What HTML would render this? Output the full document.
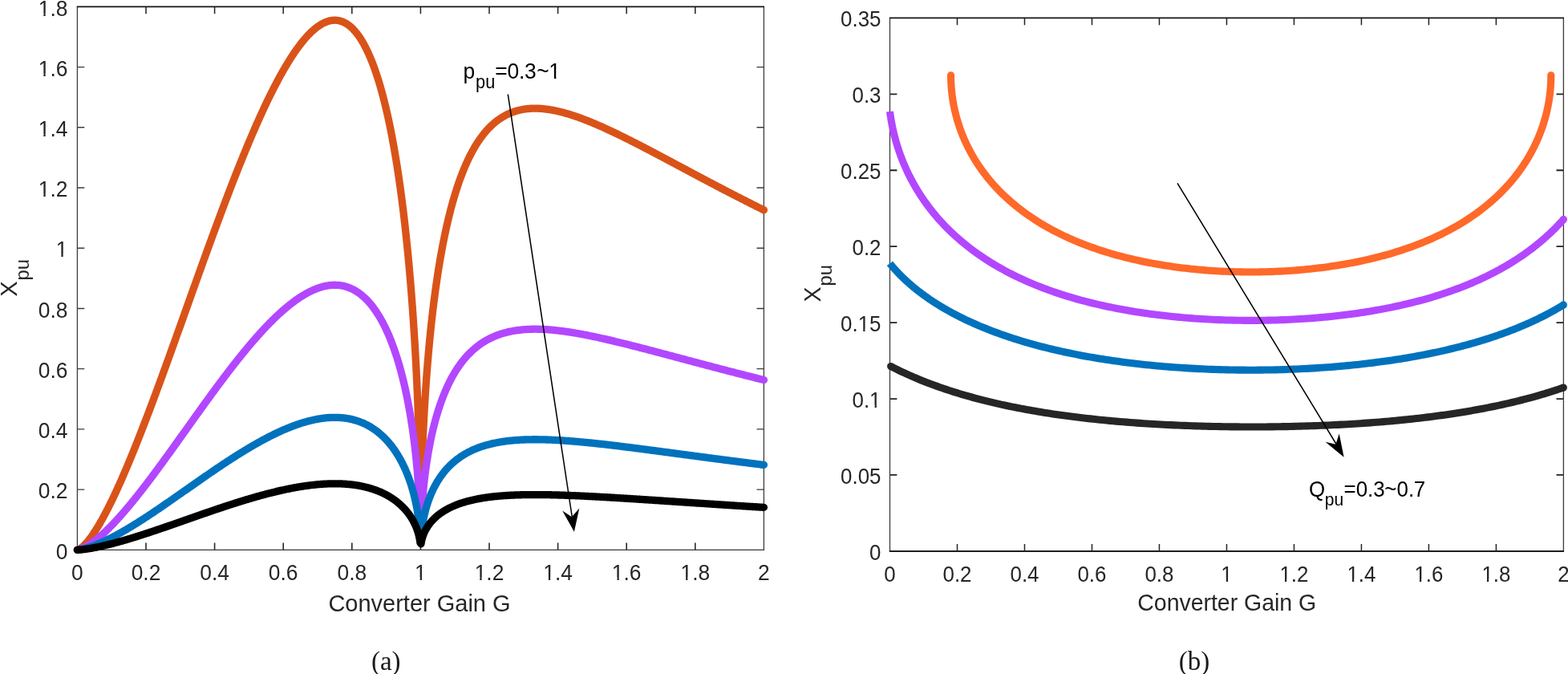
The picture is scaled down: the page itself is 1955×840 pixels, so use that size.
<!DOCTYPE html>
<html lang="en"><head><meta charset="utf-8"><title>Figure</title>
<style>
html,body{margin:0;padding:0;background:#fff;}
body{width:1955px;height:840px;overflow:hidden;}
svg{display:block;}
text{font-family:"Liberation Sans",sans-serif;}
.t{font-size:26.4px;fill:#262626;}
.l{font-size:29.0px;fill:#262626;}
.an{font-size:26.4px;fill:#000;}
#plot-b .t{font-size:25.9px;}
#plot-b .l{font-size:28.45px;}
#plot-b .an{font-size:25.9px;}
#plot-b .c{stroke-width:9.1;}
.sub{font-size:21.0px;}
.sb{fill:#262626;}
.cap{font-family:"Liberation Serif",serif;font-size:33px;fill:#1a1a1a;}
.bx{fill:none;stroke:#262626;stroke-width:1.3;}
.tk{fill:none;stroke:#262626;stroke-width:1.3;}
.c{fill:none;stroke-width:9.3;stroke-linejoin:round;stroke-linecap:round;}
.ar{fill:none;stroke:#000;stroke-width:1.55;}
</style></head><body>
<svg width="1955" height="840" viewBox="0 0 1955 840" role="img" aria-label="X pu versus converter gain G">
<rect x="0" y="0" width="1955" height="840" fill="#fff"/>
<g id="plot-a">
<path fill="none" stroke="#282828" stroke-width="1.6" d="M182 685.3 v-8.9 M267.6 685.3 v-8.9 M353.2 685.3 v-8.9 M438.8 685.3 v-8.9 M524.4 685.3 v-8.9 M610 685.3 v-8.9 M695.6 685.3 v-8.9 M781.2 685.3 v-8.9 M866.8 685.3 v-8.9"/>
<path fill="none" stroke="#222" stroke-width="1.5" d="M182 8.4 v8.9 M267.6 8.4 v8.9 M353.2 8.4 v8.9 M438.8 8.4 v8.9 M524.4 8.4 v8.9 M610 8.4 v8.9 M695.6 8.4 v8.9 M781.2 8.4 v8.9 M866.8 8.4 v8.9"/>
<path fill="none" stroke="#3c3c3c" stroke-width="1.4" d="M96.4 610.09 h8.9 M952.4 610.09 h-8.9 M96.4 534.88 h8.9 M952.4 534.88 h-8.9 M96.4 459.67 h8.9 M952.4 459.67 h-8.9 M96.4 384.46 h8.9 M952.4 384.46 h-8.9 M96.4 309.24 h8.9 M952.4 309.24 h-8.9 M96.4 234.03 h8.9 M952.4 234.03 h-8.9 M96.4 158.82 h8.9 M952.4 158.82 h-8.9 M96.4 83.61 h8.9 M952.4 83.61 h-8.9"/>
<path fill="none" stroke="#3c3c3c" stroke-width="1.3" d="M96.4 8.4 V685.3 M952.4 8.4 V685.3"/>
<path fill="none" stroke="#161616" stroke-width="1.9" d="M95.75 8.4 H953.05"/>
<path fill="none" stroke="#3a3a3a" stroke-width="1.35" d="M95.75 685.3 H953.05"/>
<path class="c" stroke="#D95319" d="M96.4 685.3 L97.47 685.05 L98.54 684.58 L99.61 683.99 L100.67 683.28 L101.74 682.48 L102.81 681.6 L103.88 680.64 L104.95 679.62 L106.02 678.53 L107.09 677.38 L108.16 676.18 L109.22 674.92 L110.29 673.61 L111.36 672.25 L112.43 670.85 L113.5 669.4 L114.57 667.91 L115.64 666.37 L116.7 664.8 L117.77 663.19 L118.84 661.54 L119.91 659.86 L120.98 658.14 L122.05 656.39 L123.12 654.61 L124.18 652.79 L125.25 650.94 L126.32 649.06 L127.39 647.16 L128.46 645.22 L129.53 643.26 L130.6 641.27 L131.67 639.25 L132.73 637.21 L133.8 635.14 L134.87 633.04 L135.94 630.93 L137.01 628.78 L138.08 626.62 L139.15 624.43 L140.21 622.22 L141.28 619.99 L142.35 617.74 L143.42 615.47 L144.49 613.18 L145.56 610.86 L146.63 608.53 L147.7 606.18 L148.76 603.81 L149.83 601.42 L150.9 599.02 L151.97 596.6 L153.04 594.16 L154.11 591.7 L155.18 589.23 L156.24 586.74 L157.31 584.23 L158.38 581.71 L159.45 579.18 L160.52 576.63 L161.59 574.06 L162.66 571.48 L163.73 568.89 L164.79 566.29 L165.86 563.67 L166.93 561.03 L168 558.39 L169.07 555.73 L170.14 553.06 L171.21 550.38 L172.27 547.69 L173.34 544.99 L174.41 542.27 L175.48 539.54 L176.55 536.81 L177.62 534.06 L178.69 531.3 L179.75 528.54 L180.82 525.76 L181.89 522.98 L182.96 520.18 L184.03 517.38 L185.1 514.56 L186.17 511.74 L187.24 508.91 L188.3 506.08 L189.37 503.23 L190.44 500.38 L191.51 497.52 L192.58 494.65 L193.65 491.78 L194.72 488.9 L195.78 486.01 L196.85 483.12 L197.92 480.22 L198.99 477.31 L200.06 474.4 L201.13 471.49 L202.2 468.56 L203.27 465.64 L204.33 462.7 L205.4 459.77 L206.47 456.83 L207.54 453.88 L208.61 450.93 L209.68 447.98 L210.75 445.02 L211.81 442.06 L212.88 439.1 L213.95 436.13 L215.02 433.16 L216.09 430.18 L217.16 427.21 L218.23 424.23 L219.29 421.25 L220.36 418.27 L221.43 415.28 L222.5 412.3 L223.57 409.31 L224.64 406.32 L225.71 403.33 L226.78 400.34 L227.84 397.34 L228.91 394.35 L229.98 391.36 L231.05 388.36 L232.12 385.37 L233.19 382.38 L234.26 379.38 L235.32 376.39 L236.39 373.39 L237.46 370.4 L238.53 367.41 L239.6 364.42 L240.67 361.43 L241.74 358.44 L242.81 355.46 L243.87 352.47 L244.94 349.49 L246.01 346.51 L247.08 343.53 L248.15 340.55 L249.22 337.58 L250.29 334.61 L251.35 331.64 L252.42 328.68 L253.49 325.71 L254.56 322.76 L255.63 319.8 L256.7 316.85 L257.77 313.9 L258.84 310.96 L259.9 308.02 L260.97 305.09 L262.04 302.16 L263.11 299.23 L264.18 296.31 L265.25 293.4 L266.32 290.49 L267.38 287.58 L268.45 284.68 L269.52 281.79 L270.59 278.9 L271.66 276.02 L272.73 273.15 L273.8 270.28 L274.86 267.42 L275.93 264.56 L277 261.71 L278.07 258.87 L279.14 256.04 L280.21 253.21 L281.28 250.39 L282.35 247.58 L283.41 244.78 L284.48 241.98 L285.55 239.2 L286.62 236.42 L287.69 233.65 L288.76 230.89 L289.83 228.14 L290.89 225.39 L291.96 222.66 L293.03 219.94 L294.1 217.22 L295.17 214.52 L296.24 211.82 L297.31 209.14 L298.38 206.47 L299.44 203.8 L300.51 201.15 L301.58 198.51 L302.65 195.88 L303.72 193.26 L304.79 190.65 L305.86 188.06 L306.92 185.47 L307.99 182.9 L309.06 180.34 L310.13 177.8 L311.2 175.26 L312.27 172.74 L313.34 170.23 L314.4 167.74 L315.47 165.25 L316.54 162.79 L317.61 160.33 L318.68 157.89 L319.75 155.46 L320.82 153.05 L321.89 150.65 L322.95 148.27 L324.02 145.9 L325.09 143.55 L326.16 141.21 L327.23 138.89 L328.3 136.59 L329.37 134.3 L330.43 132.02 L331.5 129.77 L332.57 127.53 L333.64 125.3 L334.71 123.09 L335.78 120.91 L336.85 118.73 L337.92 116.58 L338.98 114.44 L340.05 112.33 L341.12 110.23 L342.19 108.15 L343.26 106.08 L344.33 104.04 L345.4 102.02 L346.46 100.01 L347.53 98.03 L348.6 96.06 L349.67 94.12 L350.74 92.2 L351.81 90.29 L352.88 88.41 L353.95 86.55 L355.01 84.71 L356.08 82.89 L357.15 81.1 L358.22 79.33 L359.29 77.58 L360.36 75.85 L361.43 74.14 L362.49 72.46 L363.56 70.81 L364.63 69.17 L365.7 67.56 L366.77 65.98 L367.84 64.42 L368.91 62.88 L369.97 61.37 L371.04 59.89 L372.11 58.43 L373.18 57 L374.25 55.59 L375.32 54.22 L376.39 52.86 L377.46 51.54 L378.52 50.24 L379.59 48.98 L380.66 47.74 L381.73 46.53 L382.8 45.34 L383.87 44.19 L384.94 43.07 L386 41.98 L387.07 40.92 L388.14 39.88 L389.21 38.88 L390.28 37.92 L391.35 36.98 L392.42 36.08 L393.49 35.21 L394.55 34.37 L395.62 33.56 L396.69 32.79 L397.76 32.06 L398.83 31.36 L399.9 30.69 L400.97 30.06 L402.03 29.47 L403.1 28.91 L404.17 28.39 L405.24 27.91 L406.31 27.46 L407.38 27.05 L408.45 26.69 L409.51 26.36 L410.58 26.07 L411.65 25.82 L412.72 25.61 L413.79 25.45 L414.86 25.32 L415.93 25.24 L417 25.2 L418.06 25.21 L419.13 25.26 L420.2 25.35 L421.27 25.49 L422.34 25.68 L423.41 25.91 L424.48 26.19 L425.54 26.52 L426.61 26.9 L427.68 27.32 L428.75 27.8 L429.82 28.33 L430.89 28.91 L431.96 29.54 L433.03 30.22 L434.09 30.96 L435.16 31.75 L436.23 32.6 L437.3 33.51 L438.37 34.47 L439.44 35.49 L440.51 36.57 L441.57 37.71 L442.64 38.91 L443.71 40.17 L444.78 41.5 L445.85 42.89 L446.92 44.35 L447.99 45.87 L449.06 47.46 L450.12 49.12 L451.19 50.85 L452.26 52.65 L453.33 54.52 L454.4 56.47 L455.47 58.49 L456.54 60.59 L457.6 62.76 L458.67 65.02 L459.74 67.36 L460.81 69.78 L461.88 72.29 L462.95 74.88 L464.02 77.57 L465.08 80.34 L466.15 83.21 L467.22 86.17 L468.29 89.23 L469.36 92.38 L470.43 95.64 L471.5 99 L472.57 102.47 L473.63 106.05 L474.7 109.75 L475.77 113.55 L476.84 117.48 L477.91 121.53 L478.98 125.7 L480.05 130.01 L481.11 134.44 L481.6 136.5 L482.18 139.02 L483.25 143.73 L484.32 148.6 L485.39 153.61 L486.46 158.78 L487.53 164.11 L488.6 169.62 L489.66 175.29 L490.73 181.15 L491.8 187.2 L492.3 190.11 L492.87 193.44 L493.94 199.89 L495.01 206.56 L496.08 213.45 L497.14 220.58 L498.21 227.96 L499.28 235.6 L500.33 243.38 L500.35 243.52 L501.42 251.73 L502.49 260.26 L503.56 269.11 L504.62 278.32 L505.69 287.92 L506.35 294.03 L506.76 297.92 L507.83 308.38 L508.9 319.31 L509.97 330.78 L510.87 340.86 L511.04 342.84 L512.11 355.54 L513.17 368.98 L514.24 383.26 L514.25 383.36 L515.31 398.49 L516.38 414.85 L516.79 421.45 L517.45 432.55 L518.52 451.9 L518.69 455.26 L519.59 473.36 L520.12 485.08 L520.65 497.65 L521.19 511.26 L521.72 526.07 L521.99 534.16 L522.6 554.14 L522.79 561.42 L523.05 571.54 L523.39 586.67 L523.64 599.82 L523.83 611.22 L523.86 613.29 L524.94 625.32 L524.97 623.6 L525.16 614.11 L525.41 603.19 L525.75 590.63 L526.01 582.24 L526.2 576.21 L526.81 559.68 L527.08 552.99 L527.61 540.77 L528.15 529.56 L528.68 519.23 L529.21 509.61 L530.11 494.78 L530.28 492.04 L531.35 476.24 L532.01 467.21 L532.42 461.85 L533.49 448.59 L534.55 436.36 L534.56 436.28 L535.63 424.78 L536.69 413.98 L537.76 403.8 L537.93 402.22 L538.83 394.18 L539.9 385.04 L540.97 376.35 L542.04 368.07 L542.45 364.99 L543.11 360.17 L544.18 352.6 L545.24 345.35 L546.31 338.4 L547.38 331.73 L548.45 325.31 L548.47 325.2 L549.52 319.13 L550.59 313.18 L551.66 307.44 L552.72 301.91 L553.79 296.56 L554.86 291.4 L555.93 286.42 L556.5 283.84 L557 281.59 L558.07 276.92 L559.14 272.41 L560.2 268.03 L561.27 263.8 L562.34 259.69 L563.41 255.71 L564.48 251.86 L565.55 248.11 L566.62 244.48 L567.2 242.55 L567.69 240.96 L568.75 237.54 L569.82 234.22 L570.89 231 L571.96 227.87 L573.03 224.83 L574.1 221.88 L575.17 219.01 L576.23 216.23 L577.3 213.52 L578.37 210.89 L579.44 208.33 L580.51 205.85 L581.58 203.44 L582.65 201.09 L583.72 198.81 L584.78 196.59 L585.85 194.44 L586.92 192.34 L587.99 190.31 L589.06 188.33 L590.13 186.4 L591.2 184.53 L592.26 182.72 L593.33 180.95 L594.4 179.24 L595.47 177.57 L596.54 175.95 L597.61 174.38 L598.68 172.85 L599.74 171.37 L600.81 169.92 L601.88 168.52 L602.95 167.17 L604.02 165.85 L605.09 164.57 L606.16 163.33 L607.23 162.12 L608.29 160.95 L609.36 159.82 L610.43 158.72 L611.5 157.66 L612.57 156.63 L613.64 155.63 L614.71 154.66 L615.77 153.73 L616.84 152.82 L617.91 151.94 L618.98 151.1 L620.05 150.28 L621.12 149.49 L622.19 148.72 L623.26 147.98 L624.32 147.27 L625.39 146.59 L626.46 145.93 L627.53 145.29 L628.6 144.68 L629.67 144.09 L630.74 143.52 L631.8 142.97 L632.87 142.45 L633.94 141.95 L635.01 141.47 L636.08 141.01 L637.15 140.58 L638.22 140.16 L639.29 139.76 L640.35 139.38 L641.42 139.02 L642.49 138.67 L643.56 138.35 L644.63 138.04 L645.7 137.75 L646.77 137.48 L647.83 137.22 L648.9 136.98 L649.97 136.76 L651.04 136.55 L652.11 136.36 L653.18 136.18 L654.25 136.01 L655.31 135.87 L656.38 135.73 L657.45 135.61 L658.52 135.5 L659.59 135.41 L660.66 135.33 L661.73 135.26 L662.8 135.21 L663.86 135.17 L664.93 135.14 L666 135.12 L667.07 135.12 L668.14 135.12 L669.21 135.14 L670.28 135.17 L671.34 135.21 L672.41 135.26 L673.48 135.32 L674.55 135.39 L675.62 135.47 L676.69 135.56 L677.76 135.66 L678.83 135.77 L679.89 135.89 L680.96 136.02 L682.03 136.16 L683.1 136.3 L684.17 136.46 L685.24 136.62 L686.31 136.8 L687.37 136.98 L688.44 137.17 L689.51 137.37 L690.58 137.57 L691.65 137.78 L692.72 138 L693.79 138.23 L694.85 138.47 L695.92 138.71 L696.99 138.96 L698.06 139.22 L699.13 139.48 L700.2 139.75 L701.27 140.02 L702.34 140.31 L703.4 140.6 L704.47 140.89 L705.54 141.19 L706.61 141.5 L707.68 141.81 L708.75 142.13 L709.82 142.45 L710.88 142.78 L711.95 143.12 L713.02 143.46 L714.09 143.81 L715.16 144.16 L716.23 144.51 L717.3 144.87 L718.37 145.24 L719.43 145.61 L720.5 145.99 L721.57 146.37 L722.64 146.75 L723.71 147.14 L724.78 147.53 L725.85 147.93 L726.91 148.33 L727.98 148.74 L729.05 149.14 L730.12 149.56 L731.19 149.98 L732.26 150.4 L733.33 150.82 L734.4 151.25 L735.46 151.68 L736.53 152.12 L737.6 152.56 L738.67 153 L739.74 153.44 L740.81 153.89 L741.88 154.34 L742.94 154.8 L744.01 155.26 L745.08 155.72 L746.15 156.18 L747.22 156.65 L748.29 157.12 L749.36 157.59 L750.42 158.07 L751.49 158.55 L752.56 159.03 L753.63 159.51 L754.7 159.99 L755.77 160.48 L756.84 160.97 L757.91 161.47 L758.97 161.96 L760.04 162.46 L761.11 162.96 L762.18 163.46 L763.25 163.96 L764.32 164.47 L765.39 164.98 L766.45 165.49 L767.52 166 L768.59 166.51 L769.66 167.03 L770.73 167.54 L771.8 168.06 L772.87 168.58 L773.94 169.1 L775 169.63 L776.07 170.15 L777.14 170.68 L778.21 171.21 L779.28 171.74 L780.35 172.27 L781.42 172.8 L782.48 173.34 L783.55 173.87 L784.62 174.41 L785.69 174.95 L786.76 175.49 L787.83 176.03 L788.9 176.57 L789.96 177.11 L791.03 177.66 L792.1 178.2 L793.17 178.75 L794.24 179.3 L795.31 179.84 L796.38 180.39 L797.45 180.94 L798.51 181.49 L799.58 182.05 L800.65 182.6 L801.72 183.15 L802.79 183.71 L803.86 184.26 L804.93 184.82 L805.99 185.38 L807.06 185.93 L808.13 186.49 L809.2 187.05 L810.27 187.61 L811.34 188.17 L812.41 188.73 L813.48 189.29 L814.54 189.85 L815.61 190.42 L816.68 190.98 L817.75 191.54 L818.82 192.11 L819.89 192.67 L820.96 193.24 L822.02 193.8 L823.09 194.37 L824.16 194.93 L825.23 195.5 L826.3 196.06 L827.37 196.63 L828.44 197.2 L829.51 197.77 L830.57 198.33 L831.64 198.9 L832.71 199.47 L833.78 200.04 L834.85 200.61 L835.92 201.18 L836.99 201.74 L838.05 202.31 L839.12 202.88 L840.19 203.45 L841.26 204.02 L842.33 204.59 L843.4 205.16 L844.47 205.73 L845.53 206.3 L846.6 206.87 L847.67 207.44 L848.74 208.01 L849.81 208.58 L850.88 209.15 L851.95 209.72 L853.02 210.29 L854.08 210.86 L855.15 211.43 L856.22 211.99 L857.29 212.56 L858.36 213.13 L859.43 213.7 L860.5 214.27 L861.56 214.84 L862.63 215.41 L863.7 215.98 L864.77 216.54 L865.84 217.11 L866.91 217.68 L867.98 218.25 L869.05 218.81 L870.11 219.38 L871.18 219.95 L872.25 220.51 L873.32 221.08 L874.39 221.65 L875.46 222.21 L876.53 222.78 L877.59 223.34 L878.66 223.91 L879.73 224.47 L880.8 225.04 L881.87 225.6 L882.94 226.16 L884.01 226.73 L885.07 227.29 L886.14 227.85 L887.21 228.42 L888.28 228.98 L889.35 229.54 L890.42 230.1 L891.49 230.66 L892.56 231.22 L893.62 231.78 L894.69 232.34 L895.76 232.9 L896.83 233.46 L897.9 234.01 L898.97 234.57 L900.04 235.13 L901.1 235.69 L902.17 236.24 L903.24 236.8 L904.31 237.35 L905.38 237.91 L906.45 238.46 L907.52 239.02 L908.59 239.57 L909.65 240.12 L910.72 240.67 L911.79 241.23 L912.86 241.78 L913.93 242.33 L915 242.88 L916.07 243.43 L917.13 243.98 L918.2 244.53 L919.27 245.07 L920.34 245.62 L921.41 246.17 L922.48 246.71 L923.55 247.26 L924.62 247.81 L925.68 248.35 L926.75 248.89 L927.82 249.44 L928.89 249.98 L929.96 250.52 L931.03 251.06 L932.1 251.61 L933.16 252.15 L934.23 252.69 L935.3 253.22 L936.37 253.76 L937.44 254.3 L938.51 254.84 L939.58 255.38 L940.64 255.91 L941.71 256.45 L942.78 256.98 L943.85 257.52 L944.92 258.05 L945.99 258.58 L947.06 259.12 L948.13 259.65 L949.19 260.18 L950.26 260.71 L951.33 261.24 L952.4 261.77"/>
<path class="c" stroke="#B347FF" d="M96.4 685.3 L97.47 685.17 L98.54 684.94 L99.61 684.64 L100.67 684.29 L101.74 683.89 L102.81 683.45 L103.88 682.97 L104.95 682.46 L106.02 681.92 L107.09 681.34 L108.16 680.74 L109.22 680.11 L110.29 679.45 L111.36 678.78 L112.43 678.07 L113.5 677.35 L114.57 676.6 L115.64 675.84 L116.7 675.05 L117.77 674.25 L118.84 673.42 L119.91 672.58 L120.98 671.72 L122.05 670.85 L123.12 669.95 L124.18 669.04 L125.25 668.12 L126.32 667.18 L127.39 666.23 L128.46 665.26 L129.53 664.28 L130.6 663.28 L131.67 662.27 L132.73 661.25 L133.8 660.22 L134.87 659.17 L135.94 658.11 L137.01 657.04 L138.08 655.96 L139.15 654.87 L140.21 653.76 L141.28 652.65 L142.35 651.52 L143.42 650.38 L144.49 649.24 L145.56 648.08 L146.63 646.92 L147.7 645.74 L148.76 644.56 L149.83 643.36 L150.9 642.16 L151.97 640.95 L153.04 639.73 L154.11 638.5 L155.18 637.26 L156.24 636.02 L157.31 634.77 L158.38 633.51 L159.45 632.24 L160.52 630.96 L161.59 629.68 L162.66 628.39 L163.73 627.1 L164.79 625.79 L165.86 624.48 L166.93 623.17 L168 621.85 L169.07 620.52 L170.14 619.18 L171.21 617.84 L172.27 616.49 L173.34 615.14 L174.41 613.79 L175.48 612.42 L176.55 611.05 L177.62 609.68 L178.69 608.3 L179.75 606.92 L180.82 605.53 L181.89 604.14 L182.96 602.74 L184.03 601.34 L185.1 599.93 L186.17 598.52 L187.24 597.11 L188.3 595.69 L189.37 594.27 L190.44 592.84 L191.51 591.41 L192.58 589.98 L193.65 588.54 L194.72 587.1 L195.78 585.66 L196.85 584.21 L197.92 582.76 L198.99 581.31 L200.06 579.85 L201.13 578.39 L202.2 576.93 L203.27 575.47 L204.33 574 L205.4 572.53 L206.47 571.06 L207.54 569.59 L208.61 568.12 L209.68 566.64 L210.75 565.16 L211.81 563.68 L212.88 562.2 L213.95 560.71 L215.02 559.23 L216.09 557.74 L217.16 556.25 L218.23 554.77 L219.29 553.28 L220.36 551.78 L221.43 550.29 L222.5 548.8 L223.57 547.3 L224.64 545.81 L225.71 544.31 L226.78 542.82 L227.84 541.32 L228.91 539.83 L229.98 538.33 L231.05 536.83 L232.12 535.33 L233.19 533.84 L234.26 532.34 L235.32 530.84 L236.39 529.35 L237.46 527.85 L238.53 526.36 L239.6 524.86 L240.67 523.37 L241.74 521.87 L242.81 520.38 L243.87 518.89 L244.94 517.39 L246.01 515.9 L247.08 514.42 L248.15 512.93 L249.22 511.44 L250.29 509.95 L251.35 508.47 L252.42 506.99 L253.49 505.51 L254.56 504.03 L255.63 502.55 L256.7 501.08 L257.77 499.6 L258.84 498.13 L259.9 496.66 L260.97 495.19 L262.04 493.73 L263.11 492.27 L264.18 490.81 L265.25 489.35 L266.32 487.89 L267.38 486.44 L268.45 484.99 L269.52 483.55 L270.59 482.1 L271.66 480.66 L272.73 479.22 L273.8 477.79 L274.86 476.36 L275.93 474.93 L277 473.51 L278.07 472.09 L279.14 470.67 L280.21 469.26 L281.28 467.85 L282.35 466.44 L283.41 465.04 L284.48 463.64 L285.55 462.25 L286.62 460.86 L287.69 459.47 L288.76 458.09 L289.83 456.72 L290.89 455.35 L291.96 453.98 L293.03 452.62 L294.1 451.26 L295.17 449.91 L296.24 448.56 L297.31 447.22 L298.38 445.88 L299.44 444.55 L300.51 443.23 L301.58 441.9 L302.65 440.59 L303.72 439.28 L304.79 437.98 L305.86 436.68 L306.92 435.39 L307.99 434.1 L309.06 432.82 L310.13 431.55 L311.2 430.28 L312.27 429.02 L313.34 427.77 L314.4 426.52 L315.47 425.28 L316.54 424.04 L317.61 422.82 L318.68 421.6 L319.75 420.38 L320.82 419.18 L321.89 417.98 L322.95 416.79 L324.02 415.6 L325.09 414.43 L326.16 413.26 L327.23 412.1 L328.3 410.94 L329.37 409.8 L330.43 408.66 L331.5 407.53 L332.57 406.41 L333.64 405.3 L334.71 404.2 L335.78 403.1 L336.85 402.02 L337.92 400.94 L338.98 399.87 L340.05 398.81 L341.12 397.76 L342.19 396.72 L343.26 395.69 L344.33 394.67 L345.4 393.66 L346.46 392.66 L347.53 391.66 L348.6 390.68 L349.67 389.71 L350.74 388.75 L351.81 387.8 L352.88 386.86 L353.95 385.93 L355.01 385.01 L356.08 384.1 L357.15 383.2 L358.22 382.31 L359.29 381.44 L360.36 380.57 L361.43 379.72 L362.49 378.88 L363.56 378.05 L364.63 377.24 L365.7 376.43 L366.77 375.64 L367.84 374.86 L368.91 374.09 L369.97 373.34 L371.04 372.59 L372.11 371.87 L373.18 371.15 L374.25 370.45 L375.32 369.76 L376.39 369.08 L377.46 368.42 L378.52 367.77 L379.59 367.14 L380.66 366.52 L381.73 365.91 L382.8 365.32 L383.87 364.75 L384.94 364.18 L386 363.64 L387.07 363.11 L388.14 362.59 L389.21 362.09 L390.28 361.61 L391.35 361.14 L392.42 360.69 L393.49 360.25 L394.55 359.83 L395.62 359.43 L396.69 359.05 L397.76 358.68 L398.83 358.33 L399.9 358 L400.97 357.68 L402.03 357.38 L403.1 357.1 L404.17 356.84 L405.24 356.6 L406.31 356.38 L407.38 356.18 L408.45 355.99 L409.51 355.83 L410.58 355.68 L411.65 355.56 L412.72 355.46 L413.79 355.37 L414.86 355.31 L415.93 355.27 L417 355.25 L418.06 355.25 L419.13 355.28 L420.2 355.33 L421.27 355.4 L422.34 355.49 L423.41 355.61 L424.48 355.75 L425.54 355.91 L426.61 356.1 L427.68 356.31 L428.75 356.55 L429.82 356.81 L430.89 357.1 L431.96 357.42 L433.03 357.76 L434.09 358.13 L435.16 358.53 L436.23 358.95 L437.3 359.4 L438.37 359.88 L439.44 360.4 L440.51 360.93 L441.57 361.5 L442.64 362.11 L443.71 362.74 L444.78 363.4 L445.85 364.1 L446.92 364.82 L447.99 365.58 L449.06 366.38 L450.12 367.21 L451.19 368.07 L452.26 368.97 L453.33 369.91 L454.4 370.88 L455.47 371.89 L456.54 372.94 L457.6 374.03 L458.67 375.16 L459.74 376.33 L460.81 377.54 L461.88 378.8 L462.95 380.09 L464.02 381.43 L465.08 382.82 L466.15 384.25 L467.22 385.73 L468.29 387.26 L469.36 388.84 L470.43 390.47 L471.5 392.15 L472.57 393.89 L473.63 395.68 L474.7 397.52 L475.77 399.43 L476.84 401.39 L477.91 403.41 L478.98 405.5 L480.05 407.65 L481.11 409.87 L481.6 410.9 L482.18 412.16 L483.25 414.52 L484.32 416.95 L485.39 419.45 L486.46 422.04 L487.53 424.71 L488.6 427.46 L489.66 430.3 L490.73 433.23 L491.8 436.25 L492.3 437.71 L492.87 439.37 L493.94 442.6 L495.01 445.93 L496.08 449.38 L497.14 452.94 L498.21 456.63 L499.28 460.45 L500.33 464.34 L500.35 464.41 L501.42 468.52 L502.49 472.78 L503.56 477.21 L504.62 481.81 L505.69 486.61 L506.35 489.66 L506.76 491.61 L507.83 496.84 L508.9 502.31 L509.97 508.04 L510.87 513.08 L511.04 514.07 L512.11 520.42 L513.17 527.14 L514.24 534.28 L514.25 534.33 L515.31 541.9 L516.38 550.08 L516.79 553.37 L517.45 558.93 L518.52 568.6 L518.69 570.28 L519.59 579.33 L520.12 585.19 L520.65 591.48 L521.19 598.28 L521.72 605.68 L521.99 609.73 L522.6 619.72 L522.79 623.36 L523.05 628.42 L523.39 635.99 L523.64 642.56 L523.83 648.26 L523.86 649.29 L524.94 655.31 L524.97 654.45 L525.16 649.71 L525.41 644.25 L525.75 637.97 L526.01 633.77 L526.2 630.75 L526.81 622.49 L527.08 619.14 L527.61 613.04 L528.15 607.43 L528.68 602.26 L529.21 597.45 L530.11 590.04 L530.28 588.67 L531.35 580.77 L532.01 576.25 L532.42 573.57 L533.49 566.94 L534.55 560.83 L534.56 560.79 L535.63 555.04 L536.69 549.64 L537.76 544.55 L537.93 543.76 L538.83 539.74 L539.9 535.17 L540.97 530.83 L542.04 526.69 L542.45 525.15 L543.11 522.73 L544.18 518.95 L545.24 515.33 L546.31 511.85 L547.38 508.51 L548.45 505.3 L548.47 505.25 L549.52 502.21 L550.59 499.24 L551.66 496.37 L552.72 493.6 L553.79 490.93 L554.86 488.35 L555.93 485.86 L556.5 484.57 L557 483.45 L558.07 481.11 L559.14 478.85 L560.2 476.67 L561.27 474.55 L562.34 472.5 L563.41 470.51 L564.48 468.58 L565.55 466.71 L566.62 464.89 L567.2 463.92 L567.69 463.13 L568.75 461.42 L569.82 459.76 L570.89 458.15 L571.96 456.59 L573.03 455.07 L574.1 453.59 L575.17 452.16 L576.23 450.76 L577.3 449.41 L578.37 448.1 L579.44 446.82 L580.51 445.58 L581.58 444.37 L582.65 443.19 L583.72 442.05 L584.78 440.95 L585.85 439.87 L586.92 438.82 L587.99 437.8 L589.06 436.81 L590.13 435.85 L591.2 434.92 L592.26 434.01 L593.33 433.13 L594.4 432.27 L595.47 431.43 L596.54 430.63 L597.61 429.84 L598.68 429.07 L599.74 428.33 L600.81 427.61 L601.88 426.91 L602.95 426.23 L604.02 425.57 L605.09 424.93 L606.16 424.31 L607.23 423.71 L608.29 423.13 L609.36 422.56 L610.43 422.01 L611.5 421.48 L612.57 420.96 L613.64 420.46 L614.71 419.98 L615.77 419.51 L616.84 419.06 L617.91 418.62 L618.98 418.2 L620.05 417.79 L621.12 417.39 L622.19 417.01 L623.26 416.64 L624.32 416.29 L625.39 415.94 L626.46 415.61 L627.53 415.29 L628.6 414.99 L629.67 414.69 L630.74 414.41 L631.8 414.14 L632.87 413.88 L633.94 413.63 L635.01 413.39 L636.08 413.16 L637.15 412.94 L638.22 412.73 L639.29 412.53 L640.35 412.34 L641.42 412.16 L642.49 411.99 L643.56 411.82 L644.63 411.67 L645.7 411.53 L646.77 411.39 L647.83 411.26 L648.9 411.14 L649.97 411.03 L651.04 410.92 L652.11 410.83 L653.18 410.74 L654.25 410.66 L655.31 410.58 L656.38 410.52 L657.45 410.46 L658.52 410.4 L659.59 410.36 L660.66 410.32 L661.73 410.28 L662.8 410.25 L663.86 410.23 L664.93 410.22 L666 410.21 L667.07 410.21 L668.14 410.21 L669.21 410.22 L670.28 410.23 L671.34 410.25 L672.41 410.28 L673.48 410.31 L674.55 410.34 L675.62 410.38 L676.69 410.43 L677.76 410.48 L678.83 410.54 L679.89 410.6 L680.96 410.66 L682.03 410.73 L683.1 410.8 L684.17 410.88 L685.24 410.96 L686.31 411.05 L687.37 411.14 L688.44 411.23 L689.51 411.33 L690.58 411.44 L691.65 411.54 L692.72 411.65 L693.79 411.77 L694.85 411.88 L695.92 412 L696.99 412.13 L698.06 412.26 L699.13 412.39 L700.2 412.52 L701.27 412.66 L702.34 412.8 L703.4 412.95 L704.47 413.1 L705.54 413.25 L706.61 413.4 L707.68 413.56 L708.75 413.72 L709.82 413.88 L710.88 414.04 L711.95 414.21 L713.02 414.38 L714.09 414.55 L715.16 414.73 L716.23 414.91 L717.3 415.09 L718.37 415.27 L719.43 415.46 L720.5 415.64 L721.57 415.83 L722.64 416.02 L723.71 416.22 L724.78 416.42 L725.85 416.61 L726.91 416.81 L727.98 417.02 L729.05 417.22 L730.12 417.43 L731.19 417.64 L732.26 417.85 L733.33 418.06 L734.4 418.27 L735.46 418.49 L736.53 418.71 L737.6 418.93 L738.67 419.15 L739.74 419.37 L740.81 419.6 L741.88 419.82 L742.94 420.05 L744.01 420.28 L745.08 420.51 L746.15 420.74 L747.22 420.98 L748.29 421.21 L749.36 421.45 L750.42 421.68 L751.49 421.92 L752.56 422.16 L753.63 422.4 L754.7 422.65 L755.77 422.89 L756.84 423.14 L757.91 423.38 L758.97 423.63 L760.04 423.88 L761.11 424.13 L762.18 424.38 L763.25 424.63 L764.32 424.88 L765.39 425.14 L766.45 425.39 L767.52 425.65 L768.59 425.91 L769.66 426.16 L770.73 426.42 L771.8 426.68 L772.87 426.94 L773.94 427.2 L775 427.46 L776.07 427.73 L777.14 427.99 L778.21 428.25 L779.28 428.52 L780.35 428.79 L781.42 429.05 L782.48 429.32 L783.55 429.59 L784.62 429.85 L785.69 430.12 L786.76 430.39 L787.83 430.66 L788.9 430.93 L789.96 431.21 L791.03 431.48 L792.1 431.75 L793.17 432.02 L794.24 432.3 L795.31 432.57 L796.38 432.85 L797.45 433.12 L798.51 433.4 L799.58 433.67 L800.65 433.95 L801.72 434.23 L802.79 434.5 L803.86 434.78 L804.93 435.06 L805.99 435.34 L807.06 435.62 L808.13 435.9 L809.2 436.18 L810.27 436.46 L811.34 436.74 L812.41 437.02 L813.48 437.3 L814.54 437.58 L815.61 437.86 L816.68 438.14 L817.75 438.42 L818.82 438.7 L819.89 438.99 L820.96 439.27 L822.02 439.55 L823.09 439.83 L824.16 440.12 L825.23 440.4 L826.3 440.68 L827.37 440.97 L828.44 441.25 L829.51 441.53 L830.57 441.82 L831.64 442.1 L832.71 442.38 L833.78 442.67 L834.85 442.95 L835.92 443.24 L836.99 443.52 L838.05 443.81 L839.12 444.09 L840.19 444.38 L841.26 444.66 L842.33 444.95 L843.4 445.23 L844.47 445.51 L845.53 445.8 L846.6 446.08 L847.67 446.37 L848.74 446.65 L849.81 446.94 L850.88 447.22 L851.95 447.51 L853.02 447.79 L854.08 448.08 L855.15 448.36 L856.22 448.65 L857.29 448.93 L858.36 449.22 L859.43 449.5 L860.5 449.79 L861.56 450.07 L862.63 450.35 L863.7 450.64 L864.77 450.92 L865.84 451.21 L866.91 451.49 L867.98 451.77 L869.05 452.06 L870.11 452.34 L871.18 452.62 L872.25 452.91 L873.32 453.19 L874.39 453.47 L875.46 453.76 L876.53 454.04 L877.59 454.32 L878.66 454.6 L879.73 454.89 L880.8 455.17 L881.87 455.45 L882.94 455.73 L884.01 456.01 L885.07 456.3 L886.14 456.58 L887.21 456.86 L888.28 457.14 L889.35 457.42 L890.42 457.7 L891.49 457.98 L892.56 458.26 L893.62 458.54 L894.69 458.82 L895.76 459.1 L896.83 459.38 L897.9 459.66 L898.97 459.94 L900.04 460.21 L901.1 460.49 L902.17 460.77 L903.24 461.05 L904.31 461.33 L905.38 461.6 L906.45 461.88 L907.52 462.16 L908.59 462.43 L909.65 462.71 L910.72 462.99 L911.79 463.26 L912.86 463.54 L913.93 463.81 L915 464.09 L916.07 464.36 L917.13 464.64 L918.2 464.91 L919.27 465.19 L920.34 465.46 L921.41 465.73 L922.48 466.01 L923.55 466.28 L924.62 466.55 L925.68 466.82 L926.75 467.1 L927.82 467.37 L928.89 467.64 L929.96 467.91 L931.03 468.18 L932.1 468.45 L933.16 468.72 L934.23 468.99 L935.3 469.26 L936.37 469.53 L937.44 469.8 L938.51 470.07 L939.58 470.34 L940.64 470.61 L941.71 470.87 L942.78 471.14 L943.85 471.41 L944.92 471.68 L945.99 471.94 L947.06 472.21 L948.13 472.47 L949.19 472.74 L950.26 473 L951.33 473.27 L952.4 473.53"/>
<path class="c" stroke="#0072BD" d="M96.4 685.3 L97.47 685.24 L98.54 685.12 L99.61 684.97 L100.67 684.8 L101.74 684.6 L102.81 684.38 L103.88 684.14 L104.95 683.88 L106.02 683.61 L107.09 683.32 L108.16 683.02 L109.22 682.7 L110.29 682.38 L111.36 682.04 L112.43 681.69 L113.5 681.32 L114.57 680.95 L115.64 680.57 L116.7 680.18 L117.77 679.77 L118.84 679.36 L119.91 678.94 L120.98 678.51 L122.05 678.07 L123.12 677.63 L124.18 677.17 L125.25 676.71 L126.32 676.24 L127.39 675.76 L128.46 675.28 L129.53 674.79 L130.6 674.29 L131.67 673.79 L132.73 673.28 L133.8 672.76 L134.87 672.24 L135.94 671.71 L137.01 671.17 L138.08 670.63 L139.15 670.08 L140.21 669.53 L141.28 668.97 L142.35 668.41 L143.42 667.84 L144.49 667.27 L145.56 666.69 L146.63 666.11 L147.7 665.52 L148.76 664.93 L149.83 664.33 L150.9 663.73 L151.97 663.12 L153.04 662.51 L154.11 661.9 L155.18 661.28 L156.24 660.66 L157.31 660.03 L158.38 659.4 L159.45 658.77 L160.52 658.13 L161.59 657.49 L162.66 656.85 L163.73 656.2 L164.79 655.55 L165.86 654.89 L166.93 654.23 L168 653.57 L169.07 652.91 L170.14 652.24 L171.21 651.57 L172.27 650.9 L173.34 650.22 L174.41 649.54 L175.48 648.86 L176.55 648.18 L177.62 647.49 L178.69 646.8 L179.75 646.11 L180.82 645.42 L181.89 644.72 L182.96 644.02 L184.03 643.32 L185.1 642.62 L186.17 641.91 L187.24 641.2 L188.3 640.49 L189.37 639.78 L190.44 639.07 L191.51 638.35 L192.58 637.64 L193.65 636.92 L194.72 636.2 L195.78 635.48 L196.85 634.75 L197.92 634.03 L198.99 633.3 L200.06 632.58 L201.13 631.85 L202.2 631.12 L203.27 630.38 L204.33 629.65 L205.4 628.92 L206.47 628.18 L207.54 627.45 L208.61 626.71 L209.68 625.97 L210.75 625.23 L211.81 624.49 L212.88 623.75 L213.95 623.01 L215.02 622.26 L216.09 621.52 L217.16 620.78 L218.23 620.03 L219.29 619.29 L220.36 618.54 L221.43 617.8 L222.5 617.05 L223.57 616.3 L224.64 615.55 L225.71 614.81 L226.78 614.06 L227.84 613.31 L228.91 612.56 L229.98 611.81 L231.05 611.07 L232.12 610.32 L233.19 609.57 L234.26 608.82 L235.32 608.07 L236.39 607.32 L237.46 606.58 L238.53 605.83 L239.6 605.08 L240.67 604.33 L241.74 603.59 L242.81 602.84 L243.87 602.09 L244.94 601.35 L246.01 600.6 L247.08 599.86 L248.15 599.11 L249.22 598.37 L250.29 597.63 L251.35 596.89 L252.42 596.14 L253.49 595.4 L254.56 594.66 L255.63 593.93 L256.7 593.19 L257.77 592.45 L258.84 591.72 L259.9 590.98 L260.97 590.25 L262.04 589.51 L263.11 588.78 L264.18 588.05 L265.25 587.32 L266.32 586.6 L267.38 585.87 L268.45 585.15 L269.52 584.42 L270.59 583.7 L271.66 582.98 L272.73 582.26 L273.8 581.54 L274.86 580.83 L275.93 580.12 L277 579.4 L278.07 578.69 L279.14 577.98 L280.21 577.28 L281.28 576.57 L282.35 575.87 L283.41 575.17 L284.48 574.47 L285.55 573.77 L286.62 573.08 L287.69 572.39 L288.76 571.7 L289.83 571.01 L290.89 570.32 L291.96 569.64 L293.03 568.96 L294.1 568.28 L295.17 567.6 L296.24 566.93 L297.31 566.26 L298.38 565.59 L299.44 564.93 L300.51 564.26 L301.58 563.6 L302.65 562.94 L303.72 562.29 L304.79 561.64 L305.86 560.99 L306.92 560.34 L307.99 559.7 L309.06 559.06 L310.13 558.42 L311.2 557.79 L312.27 557.16 L313.34 556.53 L314.4 555.91 L315.47 555.29 L316.54 554.67 L317.61 554.06 L318.68 553.45 L319.75 552.84 L320.82 552.24 L321.89 551.64 L322.95 551.04 L324.02 550.45 L325.09 549.86 L326.16 549.28 L327.23 548.7 L328.3 548.12 L329.37 547.55 L330.43 546.98 L331.5 546.42 L332.57 545.86 L333.64 545.3 L334.71 544.75 L335.78 544.2 L336.85 543.66 L337.92 543.12 L338.98 542.59 L340.05 542.06 L341.12 541.53 L342.19 541.01 L343.26 540.5 L344.33 539.98 L345.4 539.48 L346.46 538.98 L347.53 538.48 L348.6 537.99 L349.67 537.5 L350.74 537.02 L351.81 536.55 L352.88 536.08 L353.95 535.61 L355.01 535.15 L356.08 534.7 L357.15 534.25 L358.22 533.81 L359.29 533.37 L360.36 532.94 L361.43 532.51 L362.49 532.09 L363.56 531.68 L364.63 531.27 L365.7 530.87 L366.77 530.47 L367.84 530.08 L368.91 529.7 L369.97 529.32 L371.04 528.95 L372.11 528.58 L373.18 528.22 L374.25 527.87 L375.32 527.53 L376.39 527.19 L377.46 526.86 L378.52 526.54 L379.59 526.22 L380.66 525.91 L381.73 525.61 L382.8 525.31 L383.87 525.02 L384.94 524.74 L386 524.47 L387.07 524.2 L388.14 523.95 L389.21 523.7 L390.28 523.45 L391.35 523.22 L392.42 522.99 L393.49 522.78 L394.55 522.57 L395.62 522.37 L396.69 522.17 L397.76 521.99 L398.83 521.81 L399.9 521.65 L400.97 521.49 L402.03 521.34 L403.1 521.2 L404.17 521.07 L405.24 520.95 L406.31 520.84 L407.38 520.74 L408.45 520.65 L409.51 520.56 L410.58 520.49 L411.65 520.43 L412.72 520.38 L413.79 520.34 L414.86 520.31 L415.93 520.29 L417 520.28 L418.06 520.28 L419.13 520.29 L420.2 520.31 L421.27 520.35 L422.34 520.39 L423.41 520.45 L424.48 520.52 L425.54 520.6 L426.61 520.7 L427.68 520.81 L428.75 520.92 L429.82 521.06 L430.89 521.2 L431.96 521.36 L433.03 521.53 L434.09 521.71 L435.16 521.91 L436.23 522.13 L437.3 522.35 L438.37 522.59 L439.44 522.85 L440.51 523.12 L441.57 523.4 L442.64 523.7 L443.71 524.02 L444.78 524.35 L445.85 524.7 L446.92 525.06 L447.99 525.44 L449.06 525.84 L450.12 526.25 L451.19 526.69 L452.26 527.14 L453.33 527.6 L454.4 528.09 L455.47 528.6 L456.54 529.12 L457.6 529.67 L458.67 530.23 L459.74 530.82 L460.81 531.42 L461.88 532.05 L462.95 532.7 L464.02 533.37 L465.08 534.06 L466.15 534.78 L467.22 535.52 L468.29 536.28 L469.36 537.07 L470.43 537.89 L471.5 538.73 L472.57 539.59 L473.63 540.49 L474.7 541.41 L475.77 542.36 L476.84 543.35 L477.91 544.36 L478.98 545.4 L480.05 546.48 L481.11 547.59 L481.6 548.1 L482.18 548.73 L483.25 549.91 L484.32 551.12 L485.39 552.38 L486.46 553.67 L487.53 555 L488.6 556.38 L489.66 557.8 L490.73 559.26 L491.8 560.77 L492.3 561.5 L492.87 562.34 L493.94 563.95 L495.01 565.62 L496.08 567.34 L497.14 569.12 L498.21 570.97 L499.28 572.88 L500.33 574.82 L500.35 574.85 L501.42 576.91 L502.49 579.04 L503.56 581.25 L504.62 583.56 L505.69 585.95 L506.35 587.48 L506.76 588.46 L507.83 591.07 L508.9 593.8 L509.97 596.67 L510.87 599.19 L511.04 599.68 L512.11 602.86 L513.17 606.22 L514.24 609.79 L514.25 609.82 L515.31 613.6 L516.38 617.69 L516.79 619.34 L517.45 622.11 L518.52 626.95 L518.69 627.79 L519.59 632.32 L520.12 635.25 L520.65 638.39 L521.19 641.79 L521.72 645.49 L521.99 647.52 L522.6 652.51 L522.79 654.33 L523.05 656.86 L523.39 660.64 L523.64 663.93 L523.83 666.78 L523.86 667.3 L524.94 670.3 L524.97 669.87 L525.16 667.5 L525.41 664.77 L525.75 661.63 L526.01 659.53 L526.2 658.03 L526.81 653.89 L527.08 652.22 L527.61 649.17 L528.15 646.37 L528.68 643.78 L529.21 641.38 L530.11 637.67 L530.28 636.98 L531.35 633.04 L532.01 630.78 L532.42 629.44 L533.49 626.12 L534.55 623.07 L534.56 623.04 L535.63 620.17 L536.69 617.47 L537.76 614.93 L537.93 614.53 L538.83 612.52 L539.9 610.24 L540.97 608.06 L542.04 605.99 L542.45 605.22 L543.11 604.02 L544.18 602.13 L545.24 600.31 L546.31 598.58 L547.38 596.91 L548.45 595.3 L548.47 595.27 L549.52 593.76 L550.59 592.27 L551.66 590.84 L552.72 589.45 L553.79 588.12 L554.86 586.83 L555.93 585.58 L556.5 584.94 L557 584.37 L558.07 583.21 L559.14 582.08 L560.2 580.98 L561.27 579.92 L562.34 578.9 L563.41 577.9 L564.48 576.94 L565.55 576 L566.62 575.1 L567.2 574.61 L567.69 574.22 L568.75 573.36 L569.82 572.53 L570.89 571.73 L571.96 570.94 L573.03 570.18 L574.1 569.45 L575.17 568.73 L576.23 568.03 L577.3 567.36 L578.37 566.7 L579.44 566.06 L580.51 565.44 L581.58 564.83 L582.65 564.25 L583.72 563.68 L584.78 563.12 L585.85 562.58 L586.92 562.06 L587.99 561.55 L589.06 561.06 L590.13 560.58 L591.2 560.11 L592.26 559.65 L593.33 559.21 L594.4 558.78 L595.47 558.37 L596.54 557.96 L597.61 557.57 L598.68 557.19 L599.74 556.82 L600.81 556.46 L601.88 556.11 L602.95 555.77 L604.02 555.44 L605.09 555.12 L606.16 554.81 L607.23 554.51 L608.29 554.21 L609.36 553.93 L610.43 553.66 L611.5 553.39 L612.57 553.13 L613.64 552.88 L614.71 552.64 L615.77 552.41 L616.84 552.18 L617.91 551.96 L618.98 551.75 L620.05 551.54 L621.12 551.35 L622.19 551.16 L623.26 550.97 L624.32 550.79 L625.39 550.62 L626.46 550.46 L627.53 550.3 L628.6 550.14 L629.67 550 L630.74 549.85 L631.8 549.72 L632.87 549.59 L633.94 549.46 L635.01 549.34 L636.08 549.23 L637.15 549.12 L638.22 549.01 L639.29 548.91 L640.35 548.82 L641.42 548.73 L642.49 548.64 L643.56 548.56 L644.63 548.49 L645.7 548.41 L646.77 548.34 L647.83 548.28 L648.9 548.22 L649.97 548.16 L651.04 548.11 L652.11 548.06 L653.18 548.02 L654.25 547.98 L655.31 547.94 L656.38 547.91 L657.45 547.88 L658.52 547.85 L659.59 547.83 L660.66 547.81 L661.73 547.79 L662.8 547.78 L663.86 547.77 L664.93 547.76 L666 547.76 L667.07 547.75 L668.14 547.76 L669.21 547.76 L670.28 547.77 L671.34 547.78 L672.41 547.79 L673.48 547.8 L674.55 547.82 L675.62 547.84 L676.69 547.86 L677.76 547.89 L678.83 547.92 L679.89 547.95 L680.96 547.98 L682.03 548.01 L683.1 548.05 L684.17 548.09 L685.24 548.13 L686.31 548.17 L687.37 548.22 L688.44 548.27 L689.51 548.32 L690.58 548.37 L691.65 548.42 L692.72 548.48 L693.79 548.53 L694.85 548.59 L695.92 548.65 L696.99 548.71 L698.06 548.78 L699.13 548.84 L700.2 548.91 L701.27 548.98 L702.34 549.05 L703.4 549.12 L704.47 549.2 L705.54 549.27 L706.61 549.35 L707.68 549.43 L708.75 549.51 L709.82 549.59 L710.88 549.67 L711.95 549.76 L713.02 549.84 L714.09 549.93 L715.16 550.01 L716.23 550.1 L717.3 550.19 L718.37 550.28 L719.43 550.38 L720.5 550.47 L721.57 550.57 L722.64 550.66 L723.71 550.76 L724.78 550.86 L725.85 550.96 L726.91 551.06 L727.98 551.16 L729.05 551.26 L730.12 551.36 L731.19 551.47 L732.26 551.57 L733.33 551.68 L734.4 551.79 L735.46 551.9 L736.53 552 L737.6 552.11 L738.67 552.22 L739.74 552.34 L740.81 552.45 L741.88 552.56 L742.94 552.67 L744.01 552.79 L745.08 552.9 L746.15 553.02 L747.22 553.14 L748.29 553.25 L749.36 553.37 L750.42 553.49 L751.49 553.61 L752.56 553.73 L753.63 553.85 L754.7 553.97 L755.77 554.1 L756.84 554.22 L757.91 554.34 L758.97 554.47 L760.04 554.59 L761.11 554.71 L762.18 554.84 L763.25 554.97 L764.32 555.09 L765.39 555.22 L766.45 555.35 L767.52 555.47 L768.59 555.6 L769.66 555.73 L770.73 555.86 L771.8 555.99 L772.87 556.12 L773.94 556.25 L775 556.38 L776.07 556.51 L777.14 556.65 L778.21 556.78 L779.28 556.91 L780.35 557.04 L781.42 557.18 L782.48 557.31 L783.55 557.44 L784.62 557.58 L785.69 557.71 L786.76 557.85 L787.83 557.98 L788.9 558.12 L789.96 558.25 L791.03 558.39 L792.1 558.53 L793.17 558.66 L794.24 558.8 L795.31 558.94 L796.38 559.07 L797.45 559.21 L798.51 559.35 L799.58 559.49 L800.65 559.62 L801.72 559.76 L802.79 559.9 L803.86 560.04 L804.93 560.18 L805.99 560.32 L807.06 560.46 L808.13 560.6 L809.2 560.74 L810.27 560.88 L811.34 561.02 L812.41 561.16 L813.48 561.3 L814.54 561.44 L815.61 561.58 L816.68 561.72 L817.75 561.86 L818.82 562 L819.89 562.14 L820.96 562.28 L822.02 562.43 L823.09 562.57 L824.16 562.71 L825.23 562.85 L826.3 562.99 L827.37 563.13 L828.44 563.27 L829.51 563.42 L830.57 563.56 L831.64 563.7 L832.71 563.84 L833.78 563.98 L834.85 564.13 L835.92 564.27 L836.99 564.41 L838.05 564.55 L839.12 564.7 L840.19 564.84 L841.26 564.98 L842.33 565.12 L843.4 565.27 L844.47 565.41 L845.53 565.55 L846.6 565.69 L847.67 565.83 L848.74 565.98 L849.81 566.12 L850.88 566.26 L851.95 566.4 L853.02 566.55 L854.08 566.69 L855.15 566.83 L856.22 566.97 L857.29 567.12 L858.36 567.26 L859.43 567.4 L860.5 567.54 L861.56 567.68 L862.63 567.83 L863.7 567.97 L864.77 568.11 L865.84 568.25 L866.91 568.39 L867.98 568.54 L869.05 568.68 L870.11 568.82 L871.18 568.96 L872.25 569.1 L873.32 569.25 L874.39 569.39 L875.46 569.53 L876.53 569.67 L877.59 569.81 L878.66 569.95 L879.73 570.09 L880.8 570.23 L881.87 570.38 L882.94 570.52 L884.01 570.66 L885.07 570.8 L886.14 570.94 L887.21 571.08 L888.28 571.22 L889.35 571.36 L890.42 571.5 L891.49 571.64 L892.56 571.78 L893.62 571.92 L894.69 572.06 L895.76 572.2 L896.83 572.34 L897.9 572.48 L898.97 572.62 L900.04 572.76 L901.1 572.9 L902.17 573.04 L903.24 573.17 L904.31 573.31 L905.38 573.45 L906.45 573.59 L907.52 573.73 L908.59 573.87 L909.65 574.01 L910.72 574.14 L911.79 574.28 L912.86 574.42 L913.93 574.56 L915 574.69 L916.07 574.83 L917.13 574.97 L918.2 575.11 L919.27 575.24 L920.34 575.38 L921.41 575.52 L922.48 575.65 L923.55 575.79 L924.62 575.93 L925.68 576.06 L926.75 576.2 L927.82 576.33 L928.89 576.47 L929.96 576.61 L931.03 576.74 L932.1 576.88 L933.16 577.01 L934.23 577.15 L935.3 577.28 L936.37 577.42 L937.44 577.55 L938.51 577.68 L939.58 577.82 L940.64 577.95 L941.71 578.09 L942.78 578.22 L943.85 578.35 L944.92 578.49 L945.99 578.62 L947.06 578.75 L948.13 578.89 L949.19 579.02 L950.26 579.15 L951.33 579.28 L952.4 579.42"/>
<path class="c" stroke="#000000" d="M96.4 685.3 L97.47 685.27 L98.54 685.21 L99.61 685.14 L100.67 685.05 L101.74 684.95 L102.81 684.84 L103.88 684.72 L104.95 684.59 L106.02 684.45 L107.09 684.31 L108.16 684.16 L109.22 684 L110.29 683.84 L111.36 683.67 L112.43 683.49 L113.5 683.31 L114.57 683.13 L115.64 682.93 L116.7 682.74 L117.77 682.54 L118.84 682.33 L119.91 682.12 L120.98 681.91 L122.05 681.69 L123.12 681.46 L124.18 681.24 L125.25 681.01 L126.32 680.77 L127.39 680.53 L128.46 680.29 L129.53 680.04 L130.6 679.8 L131.67 679.54 L132.73 679.29 L133.8 679.03 L134.87 678.77 L135.94 678.5 L137.01 678.24 L138.08 677.97 L139.15 677.69 L140.21 677.42 L141.28 677.14 L142.35 676.86 L143.42 676.57 L144.49 676.28 L145.56 676 L146.63 675.7 L147.7 675.41 L148.76 675.11 L149.83 674.82 L150.9 674.51 L151.97 674.21 L153.04 673.91 L154.11 673.6 L155.18 673.29 L156.24 672.98 L157.31 672.67 L158.38 672.35 L159.45 672.03 L160.52 671.72 L161.59 671.4 L162.66 671.07 L163.73 670.75 L164.79 670.42 L165.86 670.1 L166.93 669.77 L168 669.44 L169.07 669.1 L170.14 668.77 L171.21 668.44 L172.27 668.1 L173.34 667.76 L174.41 667.42 L175.48 667.08 L176.55 666.74 L177.62 666.4 L178.69 666.05 L179.75 665.7 L180.82 665.36 L181.89 665.01 L182.96 664.66 L184.03 664.31 L185.1 663.96 L186.17 663.61 L187.24 663.25 L188.3 662.9 L189.37 662.54 L190.44 662.18 L191.51 661.83 L192.58 661.47 L193.65 661.11 L194.72 660.75 L195.78 660.39 L196.85 660.03 L197.92 659.66 L198.99 659.3 L200.06 658.94 L201.13 658.57 L202.2 658.21 L203.27 657.84 L204.33 657.48 L205.4 657.11 L206.47 656.74 L207.54 656.37 L208.61 656 L209.68 655.63 L210.75 655.27 L211.81 654.9 L212.88 654.52 L213.95 654.15 L215.02 653.78 L216.09 653.41 L217.16 653.04 L218.23 652.67 L219.29 652.29 L220.36 651.92 L221.43 651.55 L222.5 651.17 L223.57 650.8 L224.64 650.43 L225.71 650.05 L226.78 649.68 L227.84 649.31 L228.91 648.93 L229.98 648.56 L231.05 648.18 L232.12 647.81 L233.19 647.43 L234.26 647.06 L235.32 646.69 L236.39 646.31 L237.46 645.94 L238.53 645.56 L239.6 645.19 L240.67 644.82 L241.74 644.44 L242.81 644.07 L243.87 643.7 L244.94 643.32 L246.01 642.95 L247.08 642.58 L248.15 642.21 L249.22 641.84 L250.29 641.46 L251.35 641.09 L252.42 640.72 L253.49 640.35 L254.56 639.98 L255.63 639.61 L256.7 639.24 L257.77 638.88 L258.84 638.51 L259.9 638.14 L260.97 637.77 L262.04 637.41 L263.11 637.04 L264.18 636.68 L265.25 636.31 L266.32 635.95 L267.38 635.59 L268.45 635.22 L269.52 634.86 L270.59 634.5 L271.66 634.14 L272.73 633.78 L273.8 633.42 L274.86 633.06 L275.93 632.71 L277 632.35 L278.07 632 L279.14 631.64 L280.21 631.29 L281.28 630.94 L282.35 630.59 L283.41 630.23 L284.48 629.89 L285.55 629.54 L286.62 629.19 L287.69 628.84 L288.76 628.5 L289.83 628.15 L290.89 627.81 L291.96 627.47 L293.03 627.13 L294.1 626.79 L295.17 626.45 L296.24 626.12 L297.31 625.78 L298.38 625.45 L299.44 625.11 L300.51 624.78 L301.58 624.45 L302.65 624.12 L303.72 623.8 L304.79 623.47 L305.86 623.14 L306.92 622.82 L307.99 622.5 L309.06 622.18 L310.13 621.86 L311.2 621.55 L312.27 621.23 L313.34 620.92 L314.4 620.6 L315.47 620.29 L316.54 619.99 L317.61 619.68 L318.68 619.37 L319.75 619.07 L320.82 618.77 L321.89 618.47 L322.95 618.17 L324.02 617.88 L325.09 617.58 L326.16 617.29 L327.23 617 L328.3 616.71 L329.37 616.42 L330.43 616.14 L331.5 615.86 L332.57 615.58 L333.64 615.3 L334.71 615.02 L335.78 614.75 L336.85 614.48 L337.92 614.21 L338.98 613.94 L340.05 613.68 L341.12 613.42 L342.19 613.16 L343.26 612.9 L344.33 612.64 L345.4 612.39 L346.46 612.14 L347.53 611.89 L348.6 611.65 L349.67 611.4 L350.74 611.16 L351.81 610.92 L352.88 610.69 L353.95 610.46 L355.01 610.23 L356.08 610 L357.15 609.77 L358.22 609.55 L359.29 609.33 L360.36 609.12 L361.43 608.91 L362.49 608.7 L363.56 608.49 L364.63 608.28 L365.7 608.08 L366.77 607.88 L367.84 607.69 L368.91 607.5 L369.97 607.31 L371.04 607.12 L372.11 606.94 L373.18 606.76 L374.25 606.59 L375.32 606.41 L376.39 606.25 L377.46 606.08 L378.52 605.92 L379.59 605.76 L380.66 605.6 L381.73 605.45 L382.8 605.31 L383.87 605.16 L384.94 605.02 L386 604.88 L387.07 604.75 L388.14 604.62 L389.21 604.5 L390.28 604.38 L391.35 604.26 L392.42 604.15 L393.49 604.04 L394.55 603.93 L395.62 603.83 L396.69 603.74 L397.76 603.64 L398.83 603.56 L399.9 603.47 L400.97 603.4 L402.03 603.32 L403.1 603.25 L404.17 603.19 L405.24 603.13 L406.31 603.07 L407.38 603.02 L408.45 602.97 L409.51 602.93 L410.58 602.9 L411.65 602.87 L412.72 602.84 L413.79 602.82 L414.86 602.8 L415.93 602.79 L417 602.79 L418.06 602.79 L419.13 602.79 L420.2 602.81 L421.27 602.82 L422.34 602.85 L423.41 602.88 L424.48 602.91 L425.54 602.95 L426.61 603 L427.68 603.05 L428.75 603.11 L429.82 603.18 L430.89 603.25 L431.96 603.33 L433.03 603.42 L434.09 603.51 L435.16 603.61 L436.23 603.71 L437.3 603.83 L438.37 603.95 L439.44 604.07 L440.51 604.21 L441.57 604.35 L442.64 604.5 L443.71 604.66 L444.78 604.83 L445.85 605 L446.92 605.18 L447.99 605.37 L449.06 605.57 L450.12 605.78 L451.19 605.99 L452.26 606.22 L453.33 606.45 L454.4 606.7 L455.47 606.95 L456.54 607.21 L457.6 607.48 L458.67 607.77 L459.74 608.06 L460.81 608.36 L461.88 608.67 L462.95 609 L464.02 609.33 L465.08 609.68 L466.15 610.04 L467.22 610.41 L468.29 610.79 L469.36 611.19 L470.43 611.59 L471.5 612.01 L472.57 612.45 L473.63 612.89 L474.7 613.36 L475.77 613.83 L476.84 614.32 L477.91 614.83 L478.98 615.35 L480.05 615.89 L481.11 616.44 L481.6 616.7 L482.18 617.01 L483.25 617.6 L484.32 618.21 L485.39 618.84 L486.46 619.49 L487.53 620.15 L488.6 620.84 L489.66 621.55 L490.73 622.28 L491.8 623.04 L492.3 623.4 L492.87 623.82 L493.94 624.62 L495.01 625.46 L496.08 626.32 L497.14 627.21 L498.21 628.13 L499.28 629.09 L500.33 630.06 L500.35 630.08 L501.42 631.1 L502.49 632.17 L503.56 633.28 L504.62 634.43 L505.69 635.63 L506.35 636.39 L506.76 636.88 L507.83 638.18 L508.9 639.55 L509.97 640.99 L510.87 642.24 L511.04 642.49 L512.11 644.08 L513.17 645.76 L514.24 647.54 L514.25 647.56 L515.31 649.45 L516.38 651.49 L516.79 652.32 L517.45 653.71 L518.52 656.13 L518.69 656.55 L519.59 658.81 L520.12 660.27 L520.65 661.84 L521.19 663.55 L521.72 665.4 L521.99 666.41 L522.6 668.91 L522.79 669.81 L523.05 671.08 L523.39 672.97 L523.64 674.61 L523.83 676.04 L523.86 676.3 L524.94 677.8 L524.97 677.59 L525.16 676.4 L525.41 675.04 L525.75 673.47 L526.01 672.42 L526.2 671.66 L526.81 669.6 L527.08 668.76 L527.61 667.23 L528.15 665.83 L528.68 664.54 L529.21 663.34 L530.11 661.49 L530.28 661.14 L531.35 659.17 L532.01 658.04 L532.42 657.37 L533.49 655.71 L534.55 654.18 L534.56 654.17 L535.63 652.73 L536.69 651.39 L537.76 650.11 L537.93 649.92 L538.83 648.91 L539.9 647.77 L540.97 646.68 L542.04 645.65 L542.45 645.26 L543.11 644.66 L544.18 643.71 L545.24 642.81 L546.31 641.94 L547.38 641.1 L548.45 640.3 L548.47 640.29 L549.52 639.53 L550.59 638.78 L551.66 638.07 L552.72 637.38 L553.79 636.71 L554.86 636.06 L555.93 635.44 L556.5 635.12 L557 634.84 L558.07 634.25 L559.14 633.69 L560.2 633.14 L561.27 632.61 L562.34 632.1 L563.41 631.6 L564.48 631.12 L565.55 630.65 L566.62 630.2 L567.2 629.96 L567.69 629.76 L568.75 629.33 L569.82 628.92 L570.89 628.51 L571.96 628.12 L573.03 627.74 L574.1 627.37 L575.17 627.01 L576.23 626.67 L577.3 626.33 L578.37 626 L579.44 625.68 L580.51 625.37 L581.58 625.07 L582.65 624.77 L583.72 624.49 L584.78 624.21 L585.85 623.94 L586.92 623.68 L587.99 623.43 L589.06 623.18 L590.13 622.94 L591.2 622.7 L592.26 622.48 L593.33 622.26 L594.4 622.04 L595.47 621.83 L596.54 621.63 L597.61 621.43 L598.68 621.24 L599.74 621.06 L600.81 620.88 L601.88 620.7 L602.95 620.53 L604.02 620.37 L605.09 620.21 L606.16 620.05 L607.23 619.9 L608.29 619.76 L609.36 619.62 L610.43 619.48 L611.5 619.34 L612.57 619.22 L613.64 619.09 L614.71 618.97 L615.77 618.85 L616.84 618.74 L617.91 618.63 L618.98 618.52 L620.05 618.42 L621.12 618.32 L622.19 618.23 L623.26 618.14 L624.32 618.05 L625.39 617.96 L626.46 617.88 L627.53 617.8 L628.6 617.72 L629.67 617.65 L630.74 617.58 L631.8 617.51 L632.87 617.44 L633.94 617.38 L635.01 617.32 L636.08 617.26 L637.15 617.21 L638.22 617.16 L639.29 617.11 L640.35 617.06 L641.42 617.01 L642.49 616.97 L643.56 616.93 L644.63 616.89 L645.7 616.86 L646.77 616.82 L647.83 616.79 L648.9 616.76 L649.97 616.73 L651.04 616.71 L652.11 616.68 L653.18 616.66 L654.25 616.64 L655.31 616.62 L656.38 616.6 L657.45 616.59 L658.52 616.58 L659.59 616.56 L660.66 616.55 L661.73 616.55 L662.8 616.54 L663.86 616.53 L664.93 616.53 L666 616.53 L667.07 616.53 L668.14 616.53 L669.21 616.53 L670.28 616.53 L671.34 616.54 L672.41 616.54 L673.48 616.55 L674.55 616.56 L675.62 616.57 L676.69 616.58 L677.76 616.59 L678.83 616.61 L679.89 616.62 L680.96 616.64 L682.03 616.66 L683.1 616.68 L684.17 616.7 L685.24 616.72 L686.31 616.74 L687.37 616.76 L688.44 616.78 L689.51 616.81 L690.58 616.83 L691.65 616.86 L692.72 616.89 L693.79 616.92 L694.85 616.95 L695.92 616.98 L696.99 617.01 L698.06 617.04 L699.13 617.07 L700.2 617.11 L701.27 617.14 L702.34 617.18 L703.4 617.21 L704.47 617.25 L705.54 617.29 L706.61 617.32 L707.68 617.36 L708.75 617.4 L709.82 617.44 L710.88 617.49 L711.95 617.53 L713.02 617.57 L714.09 617.61 L715.16 617.66 L716.23 617.7 L717.3 617.75 L718.37 617.79 L719.43 617.84 L720.5 617.89 L721.57 617.93 L722.64 617.98 L723.71 618.03 L724.78 618.08 L725.85 618.13 L726.91 618.18 L727.98 618.23 L729.05 618.28 L730.12 618.33 L731.19 618.38 L732.26 618.44 L733.33 618.49 L734.4 618.54 L735.46 618.6 L736.53 618.65 L737.6 618.71 L738.67 618.76 L739.74 618.82 L740.81 618.87 L741.88 618.93 L742.94 618.99 L744.01 619.04 L745.08 619.1 L746.15 619.16 L747.22 619.22 L748.29 619.28 L749.36 619.34 L750.42 619.4 L751.49 619.46 L752.56 619.52 L753.63 619.58 L754.7 619.64 L755.77 619.7 L756.84 619.76 L757.91 619.82 L758.97 619.88 L760.04 619.94 L761.11 620.01 L762.18 620.07 L763.25 620.13 L764.32 620.2 L765.39 620.26 L766.45 620.32 L767.52 620.39 L768.59 620.45 L769.66 620.52 L770.73 620.58 L771.8 620.65 L772.87 620.71 L773.94 620.78 L775 620.84 L776.07 620.91 L777.14 620.97 L778.21 621.04 L779.28 621.1 L780.35 621.17 L781.42 621.24 L782.48 621.3 L783.55 621.37 L784.62 621.44 L785.69 621.51 L786.76 621.57 L787.83 621.64 L788.9 621.71 L789.96 621.78 L791.03 621.84 L792.1 621.91 L793.17 621.98 L794.24 622.05 L795.31 622.12 L796.38 622.19 L797.45 622.26 L798.51 622.32 L799.58 622.39 L800.65 622.46 L801.72 622.53 L802.79 622.6 L803.86 622.67 L804.93 622.74 L805.99 622.81 L807.06 622.88 L808.13 622.95 L809.2 623.02 L810.27 623.09 L811.34 623.16 L812.41 623.23 L813.48 623.3 L814.54 623.37 L815.61 623.44 L816.68 623.51 L817.75 623.58 L818.82 623.65 L819.89 623.72 L820.96 623.79 L822.02 623.86 L823.09 623.93 L824.16 624 L825.23 624.07 L826.3 624.15 L827.37 624.22 L828.44 624.29 L829.51 624.36 L830.57 624.43 L831.64 624.5 L832.71 624.57 L833.78 624.64 L834.85 624.71 L835.92 624.78 L836.99 624.86 L838.05 624.93 L839.12 625 L840.19 625.07 L841.26 625.14 L842.33 625.21 L843.4 625.28 L844.47 625.35 L845.53 625.42 L846.6 625.5 L847.67 625.57 L848.74 625.64 L849.81 625.71 L850.88 625.78 L851.95 625.85 L853.02 625.92 L854.08 625.99 L855.15 626.07 L856.22 626.14 L857.29 626.21 L858.36 626.28 L859.43 626.35 L860.5 626.42 L861.56 626.49 L862.63 626.56 L863.7 626.63 L864.77 626.71 L865.84 626.78 L866.91 626.85 L867.98 626.92 L869.05 626.99 L870.11 627.06 L871.18 627.13 L872.25 627.2 L873.32 627.27 L874.39 627.34 L875.46 627.41 L876.53 627.48 L877.59 627.56 L878.66 627.63 L879.73 627.7 L880.8 627.77 L881.87 627.84 L882.94 627.91 L884.01 627.98 L885.07 628.05 L886.14 628.12 L887.21 628.19 L888.28 628.26 L889.35 628.33 L890.42 628.4 L891.49 628.47 L892.56 628.54 L893.62 628.61 L894.69 628.68 L895.76 628.75 L896.83 628.82 L897.9 628.89 L898.97 628.96 L900.04 629.03 L901.1 629.1 L902.17 629.17 L903.24 629.24 L904.31 629.31 L905.38 629.38 L906.45 629.45 L907.52 629.51 L908.59 629.58 L909.65 629.65 L910.72 629.72 L911.79 629.79 L912.86 629.86 L913.93 629.93 L915 630 L916.07 630.07 L917.13 630.13 L918.2 630.2 L919.27 630.27 L920.34 630.34 L921.41 630.41 L922.48 630.48 L923.55 630.54 L924.62 630.61 L925.68 630.68 L926.75 630.75 L927.82 630.82 L928.89 630.89 L929.96 630.95 L931.03 631.02 L932.1 631.09 L933.16 631.16 L934.23 631.22 L935.3 631.29 L936.37 631.36 L937.44 631.43 L938.51 631.49 L939.58 631.56 L940.64 631.63 L941.71 631.69 L942.78 631.76 L943.85 631.83 L944.92 631.89 L945.99 631.96 L947.06 632.03 L948.13 632.09 L949.19 632.16 L950.26 632.23 L951.33 632.29 L952.4 632.36"/>
<text class="t" text-anchor="middle" transform="translate(96.4 722.7) scale(1 1.07)">0</text>
<text class="t" text-anchor="middle" transform="translate(182 722.7) scale(1 1.07)">0.2</text>
<text class="t" text-anchor="middle" transform="translate(267.6 722.7) scale(1 1.07)">0.4</text>
<text class="t" text-anchor="middle" transform="translate(353.2 722.7) scale(1 1.07)">0.6</text>
<text class="t" text-anchor="middle" transform="translate(438.8 722.7) scale(1 1.07)">0.8</text>
<text class="t" text-anchor="middle" transform="translate(524.4 722.7) scale(1 1.07)">1</text>
<g fill="#fff" transform="translate(524.4 722.7) scale(1 1.07)"><rect x="-6.55" y="-2.87" width="5.85" height="3.97"/><rect x="1.63" y="-2.87" width="5.81" height="3.97"/></g>
<text class="t" text-anchor="middle" transform="translate(610 722.7) scale(1 1.07)">1.2</text>
<g fill="#fff" transform="translate(610 722.7) scale(1 1.07)"><rect x="-17.56" y="-2.87" width="5.85" height="3.97"/><rect x="-9.38" y="-2.87" width="5.81" height="3.97"/></g>
<text class="t" text-anchor="middle" transform="translate(695.6 722.7) scale(1 1.07)">1.4</text>
<g fill="#fff" transform="translate(695.6 722.7) scale(1 1.07)"><rect x="-17.56" y="-2.87" width="5.85" height="3.97"/><rect x="-9.38" y="-2.87" width="5.81" height="3.97"/></g>
<text class="t" text-anchor="middle" transform="translate(781.2 722.7) scale(1 1.07)">1.6</text>
<g fill="#fff" transform="translate(781.2 722.7) scale(1 1.07)"><rect x="-17.56" y="-2.87" width="5.85" height="3.97"/><rect x="-9.38" y="-2.87" width="5.81" height="3.97"/></g>
<text class="t" text-anchor="middle" transform="translate(866.8 722.7) scale(1 1.07)">1.8</text>
<g fill="#fff" transform="translate(866.8 722.7) scale(1 1.07)"><rect x="-17.56" y="-2.87" width="5.85" height="3.97"/><rect x="-9.38" y="-2.87" width="5.81" height="3.97"/></g>
<text class="t" text-anchor="middle" transform="translate(952.4 722.7) scale(1 1.07)">2</text>
<text class="t" text-anchor="end" transform="translate(84.4 696.5) scale(1 1.07)">0</text>
<text class="t" text-anchor="end" transform="translate(84.4 621.29) scale(1 1.07)">0.2</text>
<text class="t" text-anchor="end" transform="translate(84.4 546.08) scale(1 1.07)">0.4</text>
<text class="t" text-anchor="end" transform="translate(84.4 470.87) scale(1 1.07)">0.6</text>
<text class="t" text-anchor="end" transform="translate(84.4 395.66) scale(1 1.07)">0.8</text>
<text class="t" text-anchor="end" transform="translate(84.4 320.44) scale(1 1.07)">1</text>
<g fill="#fff" transform="translate(84.4 320.44) scale(1 1.07)"><rect x="-13.89" y="-2.87" width="5.85" height="3.97"/><rect x="-5.71" y="-2.87" width="5.81" height="3.97"/></g>
<text class="t" text-anchor="end" transform="translate(84.4 245.23) scale(1 1.07)">1.2</text>
<g fill="#fff" transform="translate(84.4 245.23) scale(1 1.07)"><rect x="-35.9" y="-2.87" width="5.85" height="3.97"/><rect x="-27.72" y="-2.87" width="5.81" height="3.97"/></g>
<text class="t" text-anchor="end" transform="translate(84.4 170.02) scale(1 1.07)">1.4</text>
<g fill="#fff" transform="translate(84.4 170.02) scale(1 1.07)"><rect x="-35.9" y="-2.87" width="5.85" height="3.97"/><rect x="-27.72" y="-2.87" width="5.81" height="3.97"/></g>
<text class="t" text-anchor="end" transform="translate(84.4 94.81) scale(1 1.07)">1.6</text>
<g fill="#fff" transform="translate(84.4 94.81) scale(1 1.07)"><rect x="-35.9" y="-2.87" width="5.85" height="3.97"/><rect x="-27.72" y="-2.87" width="5.81" height="3.97"/></g>
<text class="t" text-anchor="end" transform="translate(84.4 19.6) scale(1 1.07)">1.8</text>
<g fill="#fff" transform="translate(84.4 19.6) scale(1 1.07)"><rect x="-35.9" y="-2.87" width="5.85" height="3.97"/><rect x="-27.72" y="-2.87" width="5.81" height="3.97"/></g>
<text class="l" text-anchor="middle" transform="translate(523 762.3) scale(1 1.04)">Converter Gain G</text>
<text class="l" text-anchor="middle" transform="translate(21.4 360) rotate(-90) scale(1 1.04)">X</text>
<text class="sb" text-anchor="start" transform="translate(35.7 349.6) rotate(-90) scale(1 1.04)" style="font-size:23.8px">pu</text>
<text class="an" text-anchor="start" transform="translate(577.5 98.4) scale(1 1.08)">p<tspan class="sub" dy="10.7" dx="0.9" style="font-size:21.7px">pu</tspan><tspan dy="-10.7" dx="0.15">=</tspan><tspan dx="-0.35">0</tspan><tspan dx="-0.2">.</tspan><tspan dx="-0.2">3</tspan><tspan dx="0.6">~</tspan><tspan dx="-0.4">1</tspan></text>
<g fill="#fff" transform="translate(577.5 98.4) scale(1 1.08)"><rect x="107.66" y="-2.87" width="5.85" height="3.97"/><rect x="115.84" y="-2.87" width="5.81" height="3.97"/></g>
<path class="ar" d="M633.3 117.5 L713.7 647"/>
<path fill="#000" d="M715.9 662.8 L701.2 636.4 L712.9 644.2 L722.3 633.6 Z"/>
<text class="cap" text-anchor="middle" x="481.3" y="834.6">(a)</text>
</g>
<g id="plot-b">
<path fill="none" stroke="#262626" stroke-width="1.5" d="M1193.49 686.9 v-8.9 M1277.48 686.9 v-8.9 M1361.47 686.9 v-8.9 M1445.46 686.9 v-8.9 M1529.45 686.9 v-8.9 M1613.44 686.9 v-8.9 M1697.43 686.9 v-8.9 M1781.42 686.9 v-8.9 M1865.41 686.9 v-8.9"/>
<path fill="none" stroke="#222" stroke-width="1.5" d="M1193.49 22.4 v8.9 M1277.48 22.4 v8.9 M1361.47 22.4 v8.9 M1445.46 22.4 v8.9 M1529.45 22.4 v8.9 M1613.44 22.4 v8.9 M1697.43 22.4 v8.9 M1781.42 22.4 v8.9 M1865.41 22.4 v8.9"/>
<path fill="none" stroke="#222" stroke-width="1.8" d="M1109.5 591.97 h8.9 M1949.4 591.97 h-8.9 M1109.5 497.04 h8.9 M1949.4 497.04 h-8.9 M1109.5 402.11 h8.9 M1949.4 402.11 h-8.9 M1109.5 307.19 h8.9 M1949.4 307.19 h-8.9 M1109.5 212.26 h8.9 M1949.4 212.26 h-8.9 M1109.5 117.33 h8.9 M1949.4 117.33 h-8.9"/>
<path fill="none" stroke="#3c3c3c" stroke-width="1.3" d="M1109.5 22.4 V686.9 M1949.4 22.4 V686.9"/>
<path fill="none" stroke="#161616" stroke-width="1.9" d="M1108.85 22.4 H1950.05"/>
<path fill="none" stroke="#1e1e1e" stroke-width="2.0" d="M1108.85 686.9 H1950.05"/>
<path class="c" stroke="#FF6929" style="stroke-linecap:butt" d="M1185.55 93.76 L1185.58 96.61 L1185.64 99.47 L1185.74 102.32 L1185.88 105.17 L1186.07 108.02 L1186.29 110.87 L1186.56 113.72 L1186.87 116.56 L1187.22 119.39 L1187.6 122.23 L1188.03 125.05 L1188.51 127.88 L1189.02 130.69 L1189.57 133.5 L1190.16 136.3 L1190.79 139.1 L1191.47 141.89 L1192.18 144.67 L1192.94 147.44 L1193.73 150.2 L1194.57 152.95 L1195.44 155.69 L1196.35 158.42 L1197.31 161.14 L1198.3 163.85 L1199.34 166.54 L1200.41 169.23 L1201.52 171.9 L1202.68 174.56 L1203.87 177.2 L1205.1 179.83 L1206.37 182.45 L1207.67 185.05 L1209.02 187.63 L1210.4 190.2 L1211.83 192.76 L1213.29 195.3 L1214.79 197.82 L1216.33 200.32 L1217.9 202.81 L1219.51 205.28 L1221.16 207.73 L1222.85 210.16 L1224.57 212.58 L1226.33 214.97 L1228.13 217.35 L1229.96 219.7 L1231.83 222.04 L1233.74 224.36 L1235.68 226.65 L1237.66 228.93 L1239.67 231.18 L1241.71 233.42 L1243.8 235.63 L1245.91 237.82 L1248.06 239.99 L1250.25 242.14 L1252.47 244.26 L1254.72 246.37 L1257.01 248.45 L1259.33 250.5 L1261.68 252.54 L1264.06 254.55 L1266.48 256.54 L1268.93 258.5 L1271.41 260.45 L1273.93 262.36 L1276.47 264.26 L1279.05 266.13 L1281.65 267.98 L1284.29 269.8 L1286.96 271.6 L1289.65 273.37 L1292.38 275.12 L1295.14 276.85 L1297.92 278.55 L1300.73 280.23 L1303.58 281.88 L1306.45 283.51 L1309.34 285.12 L1312.27 286.7 L1315.22 288.25 L1318.2 289.78 L1321.21 291.29 L1324.24 292.77 L1327.29 294.23 L1330.38 295.66 L1333.49 297.07 L1336.62 298.45 L1339.78 299.81 L1342.96 301.14 L1346.16 302.45 L1349.39 303.74 L1352.64 305 L1355.92 306.24 L1359.22 307.45 L1362.53 308.64 L1365.88 309.8 L1369.24 310.94 L1372.62 312.06 L1376.02 313.15 L1379.45 314.22 L1382.89 315.27 L1386.35 316.29 L1389.83 317.28 L1393.33 318.26 L1396.85 319.21 L1400.39 320.14 L1403.94 321.04 L1407.51 321.92 L1411.1 322.78 L1414.7 323.61 L1418.32 324.42 L1421.96 325.21 L1425.61 325.98 L1429.27 326.72 L1432.95 327.44 L1436.65 328.14 L1440.35 328.81 L1444.07 329.46 L1447.8 330.09 L1451.55 330.7 L1455.31 331.29 L1459.07 331.85 L1462.85 332.39 L1466.64 332.91 L1470.44 333.41 L1474.25 333.89 L1478.07 334.34 L1481.9 334.77 L1485.74 335.19 L1489.58 335.58 L1493.43 335.94 L1497.29 336.29 L1501.16 336.62 L1505.03 336.92 L1508.91 337.2 L1512.79 337.47 L1516.68 337.71 L1520.58 337.93 L1524.48 338.13 L1528.38 338.3 L1532.28 338.46 L1536.19 338.6 L1540.1 338.71 L1544.02 338.81 L1547.93 338.88 L1551.85 338.93 L1555.77 338.96 L1559.68 338.97 L1563.6 338.96 L1567.52 338.93 L1571.44 338.88 L1575.35 338.81 L1579.27 338.71 L1583.18 338.6 L1587.09 338.46 L1590.99 338.3 L1594.89 338.13 L1598.79 337.93 L1602.69 337.71 L1606.58 337.47 L1610.46 337.2 L1614.34 336.92 L1618.21 336.62 L1622.08 336.29 L1625.94 335.94 L1629.79 335.58 L1633.63 335.19 L1637.47 334.77 L1641.3 334.34 L1645.12 333.89 L1648.93 333.41 L1652.73 332.91 L1656.52 332.39 L1660.3 331.85 L1664.06 331.29 L1667.82 330.7 L1671.56 330.09 L1675.3 329.46 L1679.02 328.81 L1682.72 328.14 L1686.42 327.44 L1690.1 326.72 L1693.76 325.98 L1697.41 325.21 L1701.05 324.42 L1704.67 323.61 L1708.27 322.78 L1711.86 321.92 L1715.43 321.04 L1718.98 320.14 L1722.52 319.21 L1726.04 318.26 L1729.54 317.28 L1733.02 316.29 L1736.48 315.27 L1739.92 314.22 L1743.35 313.15 L1746.75 312.06 L1750.13 310.94 L1753.49 309.8 L1756.83 308.64 L1760.15 307.45 L1763.45 306.24 L1766.73 305 L1769.98 303.74 L1773.21 302.45 L1776.41 301.14 L1779.59 299.81 L1782.75 298.45 L1785.88 297.07 L1788.99 295.66 L1792.07 294.23 L1795.13 292.77 L1798.16 291.29 L1801.17 289.78 L1804.15 288.25 L1807.1 286.7 L1810.03 285.12 L1812.92 283.51 L1815.79 281.88 L1818.64 280.23 L1821.45 278.55 L1824.23 276.85 L1826.99 275.12 L1829.72 273.37 L1832.41 271.6 L1835.08 269.8 L1837.72 267.98 L1840.32 266.13 L1842.9 264.26 L1845.44 262.36 L1847.96 260.45 L1850.44 258.5 L1852.89 256.54 L1855.31 254.55 L1857.69 252.54 L1860.04 250.5 L1862.36 248.45 L1864.65 246.37 L1866.9 244.26 L1869.12 242.14 L1871.31 239.99 L1873.46 237.82 L1875.57 235.63 L1877.66 233.42 L1879.7 231.18 L1881.71 228.93 L1883.69 226.65 L1885.63 224.36 L1887.54 222.04 L1889.41 219.7 L1891.24 217.35 L1893.04 214.97 L1894.8 212.58 L1896.52 210.16 L1898.21 207.73 L1899.86 205.28 L1901.47 202.81 L1903.04 200.32 L1904.58 197.82 L1906.08 195.3 L1907.54 192.76 L1908.97 190.2 L1910.35 187.63 L1911.7 185.05 L1913 182.45 L1914.27 179.83 L1915.5 177.2 L1916.69 174.56 L1917.85 171.9 L1918.96 169.23 L1920.03 166.54 L1921.07 163.85 L1922.06 161.14 L1923.02 158.42 L1923.93 155.69 L1924.8 152.95 L1925.64 150.2 L1926.43 147.44 L1927.19 144.67 L1927.9 141.89 L1928.58 139.1 L1929.21 136.3 L1929.8 133.5 L1930.35 130.69 L1930.86 127.88 L1931.34 125.05 L1931.77 122.23 L1932.15 119.39 L1932.5 116.56 L1932.81 113.72 L1933.08 110.87 L1933.3 108.02 L1933.49 105.17 L1933.63 102.32 L1933.73 99.47 L1933.79 96.61 L1933.81 93.76"/>
<circle cx="1185.55" cy="93.76" r="4.55" fill="#FF6929"/>
<circle cx="1933.81" cy="93.76" r="4.55" fill="#FF6929"/>
<path class="c" stroke="#B347FF" style="stroke-linecap:butt" d="M1109.5 139.04 L1109.52 139.22 L1109.59 139.75 L1109.71 140.63 L1109.87 141.82 L1110.08 143.28 L1110.33 145 L1110.63 146.92 L1110.97 149.03 L1111.36 151.29 L1111.8 153.69 L1112.28 156.19 L1112.81 158.79 L1113.39 161.46 L1114.01 164.19 L1114.67 166.98 L1115.38 169.82 L1116.14 172.69 L1116.94 175.59 L1117.79 178.51 L1118.68 181.46 L1119.61 184.42 L1120.6 187.39 L1121.62 190.37 L1122.69 193.35 L1123.81 196.34 L1124.97 199.33 L1126.17 202.32 L1127.42 205.3 L1128.72 208.28 L1130.05 211.25 L1131.43 214.22 L1132.86 217.17 L1134.33 220.11 L1135.84 223.05 L1137.39 225.97 L1138.99 228.87 L1140.63 231.77 L1142.31 234.64 L1144.04 237.5 L1145.81 240.35 L1147.62 243.17 L1149.47 245.98 L1151.36 248.77 L1153.3 251.54 L1155.27 254.28 L1157.29 257.01 L1159.35 259.72 L1161.45 262.4 L1163.58 265.06 L1165.76 267.7 L1167.98 270.32 L1170.24 272.91 L1172.54 275.48 L1174.87 278.02 L1177.25 280.54 L1179.66 283.04 L1182.12 285.51 L1184.61 287.95 L1187.14 290.37 L1189.7 292.76 L1192.31 295.13 L1194.95 297.46 L1197.62 299.78 L1200.34 302.06 L1203.09 304.32 L1205.87 306.55 L1208.69 308.75 L1211.55 310.93 L1214.44 313.07 L1217.37 315.19 L1220.33 317.28 L1223.32 319.35 L1226.35 321.38 L1229.41 323.39 L1232.5 325.37 L1235.63 327.32 L1238.78 329.24 L1241.97 331.13 L1245.2 332.99 L1248.45 334.83 L1251.73 336.64 L1255.05 338.42 L1258.39 340.17 L1261.76 341.89 L1265.17 343.58 L1268.6 345.25 L1272.06 346.88 L1275.55 348.49 L1279.07 350.07 L1282.61 351.63 L1286.18 353.15 L1289.78 354.65 L1293.4 356.12 L1297.05 357.56 L1300.73 358.97 L1304.43 360.36 L1308.15 361.72 L1311.9 363.05 L1315.68 364.36 L1319.48 365.63 L1323.29 366.89 L1327.14 368.11 L1331 369.31 L1334.89 370.48 L1338.8 371.63 L1342.73 372.75 L1346.67 373.84 L1350.64 374.91 L1354.63 375.95 L1358.64 376.97 L1362.67 377.96 L1366.71 378.93 L1370.78 379.88 L1374.86 380.79 L1378.95 381.69 L1383.07 382.56 L1387.2 383.4 L1391.34 384.23 L1395.5 385.03 L1399.68 385.8 L1403.87 386.55 L1408.07 387.28 L1412.29 387.99 L1416.52 388.67 L1420.76 389.33 L1425.01 389.97 L1429.28 390.58 L1433.55 391.18 L1437.84 391.75 L1442.14 392.3 L1446.44 392.83 L1450.76 393.33 L1455.08 393.82 L1459.42 394.28 L1463.76 394.73 L1468.1 395.15 L1472.46 395.55 L1476.82 395.93 L1481.18 396.29 L1485.55 396.63 L1489.93 396.95 L1494.31 397.25 L1498.69 397.53 L1503.08 397.79 L1507.47 398.03 L1511.86 398.25 L1516.26 398.45 L1520.66 398.63 L1525.05 398.79 L1529.45 398.93 L1533.85 399.06 L1538.24 399.16 L1542.64 399.25 L1547.04 399.31 L1551.43 399.36 L1555.82 399.39 L1560.21 399.39 L1564.59 399.38 L1568.97 399.35 L1573.35 399.31 L1577.72 399.24 L1582.08 399.16 L1586.44 399.05 L1590.8 398.93 L1595.14 398.79 L1599.48 398.63 L1603.82 398.45 L1608.14 398.25 L1612.46 398.04 L1616.76 397.8 L1621.06 397.55 L1625.35 397.28 L1629.62 396.99 L1633.89 396.68 L1638.14 396.35 L1642.38 396.01 L1646.61 395.64 L1650.83 395.26 L1655.03 394.85 L1659.22 394.43 L1663.4 393.99 L1667.56 393.53 L1671.7 393.06 L1675.83 392.56 L1679.95 392.05 L1684.04 391.51 L1688.12 390.96 L1692.19 390.39 L1696.23 389.8 L1700.26 389.19 L1704.27 388.56 L1708.26 387.91 L1712.23 387.25 L1716.17 386.56 L1720.1 385.86 L1724.01 385.13 L1727.9 384.39 L1731.76 383.63 L1735.61 382.85 L1739.43 382.05 L1743.22 381.24 L1747 380.4 L1750.75 379.55 L1754.47 378.67 L1758.17 377.78 L1761.85 376.87 L1765.5 375.94 L1769.12 375 L1772.72 374.03 L1776.29 373.05 L1779.83 372.05 L1783.35 371.03 L1786.84 369.99 L1790.3 368.94 L1793.73 367.87 L1797.14 366.78 L1800.51 365.67 L1803.85 364.55 L1807.17 363.41 L1810.45 362.25 L1813.7 361.08 L1816.93 359.89 L1820.12 358.69 L1823.27 357.47 L1826.4 356.23 L1829.49 354.99 L1832.55 353.72 L1835.58 352.44 L1838.57 351.15 L1841.53 349.85 L1844.46 348.53 L1847.35 347.2 L1850.21 345.86 L1853.03 344.51 L1855.81 343.15 L1858.56 341.77 L1861.28 340.39 L1863.95 338.99 L1866.59 337.59 L1869.2 336.18 L1871.76 334.76 L1874.29 333.34 L1876.78 331.91 L1879.24 330.47 L1881.65 329.03 L1884.03 327.59 L1886.36 326.14 L1888.66 324.69 L1890.92 323.24 L1893.14 321.79 L1895.32 320.33 L1897.45 318.88 L1899.55 317.43 L1901.61 315.99 L1903.63 314.55 L1905.6 313.11 L1907.54 311.68 L1909.43 310.26 L1911.28 308.84 L1913.09 307.44 L1914.86 306.04 L1916.59 304.66 L1918.27 303.29 L1919.91 301.93 L1921.51 300.59 L1923.06 299.27 L1924.57 297.97 L1926.04 296.68 L1927.47 295.41 L1928.85 294.17 L1930.18 292.95 L1931.48 291.76 L1932.73 290.59 L1933.93 289.45 L1935.09 288.33 L1936.21 287.25 L1937.28 286.2 L1938.3 285.18 L1939.29 284.2 L1940.22 283.25 L1941.11 282.34 L1941.96 281.46 L1942.76 280.63 L1943.52 279.83 L1944.23 279.08 L1944.89 278.37 L1945.51 277.71 L1946.09 277.09 L1946.62 276.51 L1947.1 275.98 L1947.54 275.5 L1947.93 275.07 L1948.27 274.69 L1948.57 274.35 L1948.82 274.07 L1949.03 273.84 L1949.19 273.66 L1949.31 273.53 L1949.38 273.45 L1949.4 273.42"/>
<circle cx="1949.4" cy="273.42" r="4.55" fill="#B347FF"/>
<path class="c" stroke="#0072BD" style="stroke-linecap:butt" d="M1109.5 328.4 L1109.52 328.43 L1109.59 328.51 L1109.71 328.65 L1109.87 328.85 L1110.08 329.1 L1110.33 329.41 L1110.63 329.77 L1110.97 330.19 L1111.36 330.66 L1111.8 331.18 L1112.28 331.75 L1112.81 332.36 L1113.39 333.03 L1114.01 333.74 L1114.67 334.5 L1115.38 335.3 L1116.14 336.14 L1116.94 337.02 L1117.79 337.94 L1118.68 338.89 L1119.61 339.88 L1120.6 340.91 L1121.62 341.96 L1122.69 343.05 L1123.81 344.17 L1124.97 345.31 L1126.17 346.48 L1127.42 347.67 L1128.72 348.88 L1130.05 350.12 L1131.43 351.37 L1132.86 352.65 L1134.33 353.94 L1135.84 355.24 L1137.39 356.57 L1138.99 357.9 L1140.63 359.25 L1142.31 360.6 L1144.04 361.97 L1145.81 363.34 L1147.62 364.73 L1149.47 366.12 L1151.36 367.51 L1153.3 368.91 L1155.27 370.31 L1157.29 371.72 L1159.35 373.13 L1161.45 374.54 L1163.58 375.95 L1165.76 377.36 L1167.98 378.76 L1170.24 380.17 L1172.54 381.58 L1174.87 382.98 L1177.25 384.37 L1179.66 385.77 L1182.12 387.16 L1184.61 388.54 L1187.14 389.92 L1189.7 391.29 L1192.31 392.65 L1194.95 394.01 L1197.62 395.36 L1200.34 396.7 L1203.09 398.03 L1205.87 399.35 L1208.69 400.67 L1211.55 401.97 L1214.44 403.26 L1217.37 404.54 L1220.33 405.82 L1223.32 407.08 L1226.35 408.33 L1229.41 409.56 L1232.5 410.79 L1235.63 412 L1238.78 413.21 L1241.97 414.39 L1245.2 415.57 L1248.45 416.73 L1251.73 417.88 L1255.05 419.02 L1258.39 420.14 L1261.76 421.25 L1265.17 422.34 L1268.6 423.42 L1272.06 424.49 L1275.55 425.54 L1279.07 426.58 L1282.61 427.6 L1286.18 428.61 L1289.78 429.6 L1293.4 430.58 L1297.05 431.54 L1300.73 432.49 L1304.43 433.42 L1308.15 434.34 L1311.9 435.24 L1315.68 436.13 L1319.48 437 L1323.29 437.86 L1327.14 438.7 L1331 439.53 L1334.89 440.33 L1338.8 441.13 L1342.73 441.91 L1346.67 442.67 L1350.64 443.42 L1354.63 444.15 L1358.64 444.87 L1362.67 445.57 L1366.71 446.25 L1370.78 446.92 L1374.86 447.57 L1378.95 448.21 L1383.07 448.83 L1387.2 449.44 L1391.34 450.03 L1395.5 450.6 L1399.68 451.16 L1403.87 451.71 L1408.07 452.24 L1412.29 452.75 L1416.52 453.25 L1420.76 453.73 L1425.01 454.2 L1429.28 454.65 L1433.55 455.08 L1437.84 455.51 L1442.14 455.91 L1446.44 456.3 L1450.76 456.68 L1455.08 457.04 L1459.42 457.38 L1463.76 457.71 L1468.1 458.02 L1472.46 458.32 L1476.82 458.61 L1481.18 458.88 L1485.55 459.13 L1489.93 459.37 L1494.31 459.59 L1498.69 459.8 L1503.08 460 L1507.47 460.18 L1511.86 460.34 L1516.26 460.49 L1520.66 460.63 L1525.05 460.75 L1529.45 460.86 L1533.85 460.95 L1538.24 461.03 L1542.64 461.09 L1547.04 461.14 L1551.43 461.17 L1555.82 461.19 L1560.21 461.2 L1564.59 461.19 L1568.97 461.16 L1573.35 461.13 L1577.72 461.07 L1582.08 461.01 L1586.44 460.93 L1590.8 460.83 L1595.14 460.73 L1599.48 460.6 L1603.82 460.47 L1608.14 460.32 L1612.46 460.15 L1616.76 459.97 L1621.06 459.78 L1625.35 459.57 L1629.62 459.35 L1633.89 459.12 L1638.14 458.87 L1642.38 458.61 L1646.61 458.33 L1650.83 458.04 L1655.03 457.74 L1659.22 457.43 L1663.4 457.1 L1667.56 456.75 L1671.7 456.4 L1675.83 456.03 L1679.95 455.64 L1684.04 455.25 L1688.12 454.84 L1692.19 454.41 L1696.23 453.98 L1700.26 453.53 L1704.27 453.07 L1708.26 452.59 L1712.23 452.11 L1716.17 451.61 L1720.1 451.09 L1724.01 450.57 L1727.9 450.03 L1731.76 449.48 L1735.61 448.92 L1739.43 448.34 L1743.22 447.75 L1747 447.16 L1750.75 446.55 L1754.47 445.92 L1758.17 445.29 L1761.85 444.64 L1765.5 443.99 L1769.12 443.32 L1772.72 442.64 L1776.29 441.95 L1779.83 441.25 L1783.35 440.54 L1786.84 439.82 L1790.3 439.09 L1793.73 438.35 L1797.14 437.59 L1800.51 436.83 L1803.85 436.06 L1807.17 435.28 L1810.45 434.5 L1813.7 433.7 L1816.93 432.89 L1820.12 432.08 L1823.27 431.26 L1826.4 430.43 L1829.49 429.59 L1832.55 428.75 L1835.58 427.9 L1838.57 427.04 L1841.53 426.18 L1844.46 425.31 L1847.35 424.44 L1850.21 423.56 L1853.03 422.67 L1855.81 421.79 L1858.56 420.89 L1861.28 420 L1863.95 419.1 L1866.59 418.2 L1869.2 417.29 L1871.76 416.39 L1874.29 415.48 L1876.78 414.57 L1879.24 413.66 L1881.65 412.75 L1884.03 411.85 L1886.36 410.94 L1888.66 410.03 L1890.92 409.13 L1893.14 408.23 L1895.32 407.33 L1897.45 406.43 L1899.55 405.54 L1901.61 404.66 L1903.63 403.78 L1905.6 402.9 L1907.54 402.04 L1909.43 401.18 L1911.28 400.32 L1913.09 399.48 L1914.86 398.65 L1916.59 397.82 L1918.27 397.01 L1919.91 396.2 L1921.51 395.41 L1923.06 394.63 L1924.57 393.87 L1926.04 393.11 L1927.47 392.37 L1928.85 391.65 L1930.18 390.94 L1931.48 390.25 L1932.73 389.58 L1933.93 388.92 L1935.09 388.29 L1936.21 387.67 L1937.28 387.07 L1938.3 386.49 L1939.29 385.93 L1940.22 385.4 L1941.11 384.88 L1941.96 384.39 L1942.76 383.92 L1943.52 383.48 L1944.23 383.06 L1944.89 382.66 L1945.51 382.29 L1946.09 381.95 L1946.62 381.63 L1947.1 381.33 L1947.54 381.07 L1947.93 380.83 L1948.27 380.62 L1948.57 380.43 L1948.82 380.28 L1949.03 380.15 L1949.19 380.05 L1949.31 379.98 L1949.38 379.94 L1949.4 379.92"/>
<circle cx="1949.4" cy="379.92" r="4.55" fill="#0072BD"/>
<path class="c" stroke="#262626" style="stroke-linecap:butt" d="M1110.59 456.51 L1110.61 456.52 L1110.68 456.56 L1110.8 456.62 L1110.96 456.7 L1111.17 456.81 L1111.42 456.94 L1111.72 457.09 L1112.06 457.27 L1112.45 457.47 L1112.89 457.69 L1113.37 457.93 L1113.9 458.2 L1114.47 458.49 L1115.09 458.8 L1115.76 459.13 L1116.47 459.49 L1117.22 459.86 L1118.02 460.26 L1118.87 460.67 L1119.76 461.11 L1120.69 461.56 L1121.67 462.03 L1122.7 462.52 L1123.77 463.03 L1124.88 463.56 L1126.04 464.1 L1127.24 464.66 L1128.49 465.24 L1129.78 465.83 L1131.12 466.43 L1132.5 467.05 L1133.92 467.69 L1135.39 468.33 L1136.9 468.99 L1138.45 469.67 L1140.04 470.35 L1141.68 471.04 L1143.36 471.75 L1145.09 472.47 L1146.85 473.19 L1148.66 473.93 L1150.51 474.67 L1152.4 475.42 L1154.33 476.18 L1156.3 476.94 L1158.32 477.71 L1160.37 478.49 L1162.47 479.27 L1164.61 480.06 L1166.78 480.85 L1169 481.64 L1171.25 482.44 L1173.55 483.24 L1175.88 484.05 L1178.25 484.85 L1180.67 485.66 L1183.11 486.46 L1185.6 487.27 L1188.13 488.08 L1190.69 488.88 L1193.29 489.69 L1195.93 490.49 L1198.6 491.29 L1201.31 492.09 L1204.06 492.89 L1206.84 493.68 L1209.66 494.48 L1212.51 495.26 L1215.4 496.05 L1218.32 496.83 L1221.27 497.6 L1224.26 498.37 L1227.29 499.13 L1230.34 499.89 L1233.43 500.65 L1236.55 501.39 L1239.71 502.13 L1242.89 502.87 L1246.11 503.6 L1249.36 504.32 L1252.64 505.03 L1255.95 505.74 L1259.29 506.43 L1262.66 507.12 L1266.06 507.81 L1269.48 508.48 L1272.94 509.15 L1276.42 509.8 L1279.94 510.45 L1283.48 511.09 L1287.04 511.72 L1290.64 512.34 L1294.26 512.96 L1297.9 513.56 L1301.57 514.15 L1305.27 514.74 L1308.99 515.31 L1312.73 515.88 L1316.5 516.43 L1320.29 516.98 L1324.11 517.52 L1327.95 518.04 L1331.81 518.56 L1335.69 519.06 L1339.59 519.56 L1343.51 520.05 L1347.46 520.52 L1351.42 520.99 L1355.41 521.45 L1359.41 521.89 L1363.43 522.33 L1367.47 522.76 L1371.53 523.17 L1375.6 523.58 L1379.69 523.98 L1383.8 524.36 L1387.93 524.74 L1392.07 525.11 L1396.22 525.46 L1400.39 525.81 L1404.58 526.15 L1408.77 526.47 L1412.99 526.79 L1417.21 527.1 L1421.45 527.4 L1425.69 527.68 L1429.95 527.96 L1434.22 528.23 L1438.51 528.49 L1442.8 528.74 L1447.1 528.98 L1451.41 529.21 L1455.73 529.43 L1460.05 529.64 L1464.39 529.84 L1468.73 530.04 L1473.08 530.22 L1477.43 530.39 L1481.79 530.56 L1486.16 530.72 L1490.53 530.86 L1494.9 531 L1499.28 531.13 L1503.66 531.25 L1508.05 531.36 L1512.43 531.46 L1516.82 531.55 L1521.21 531.64 L1525.6 531.71 L1530 531.78 L1534.39 531.84 L1538.78 531.88 L1543.17 531.92 L1547.56 531.96 L1551.95 531.98 L1556.33 531.99 L1560.71 532 L1565.09 531.99 L1569.47 531.98 L1573.84 531.96 L1578.2 531.93 L1582.56 531.89 L1586.92 531.85 L1591.26 531.79 L1595.61 531.73 L1599.94 531.66 L1604.27 531.58 L1608.58 531.49 L1612.89 531.39 L1617.19 531.28 L1621.49 531.17 L1625.77 531.05 L1630.04 530.92 L1634.3 530.78 L1638.55 530.63 L1642.78 530.47 L1647.01 530.31 L1651.22 530.14 L1655.41 529.95 L1659.6 529.76 L1663.77 529.57 L1667.92 529.36 L1672.06 529.14 L1676.19 528.92 L1680.3 528.69 L1684.39 528.45 L1688.46 528.2 L1692.52 527.95 L1696.56 527.68 L1700.58 527.41 L1704.59 527.13 L1708.57 526.84 L1712.53 526.55 L1716.48 526.24 L1720.4 525.93 L1724.3 525.61 L1728.19 525.28 L1732.05 524.94 L1735.88 524.6 L1739.7 524.25 L1743.49 523.89 L1747.26 523.52 L1751 523.15 L1754.72 522.76 L1758.42 522.37 L1762.09 521.98 L1765.74 521.57 L1769.36 521.16 L1772.95 520.74 L1776.52 520.32 L1780.06 519.89 L1783.57 519.45 L1787.05 519 L1790.51 518.55 L1793.94 518.09 L1797.33 517.63 L1800.7 517.16 L1804.04 516.68 L1807.35 516.2 L1810.63 515.71 L1813.88 515.22 L1817.1 514.72 L1820.28 514.21 L1823.44 513.71 L1826.56 513.19 L1829.65 512.68 L1832.71 512.15 L1835.73 511.63 L1838.72 511.1 L1841.67 510.57 L1844.6 510.03 L1847.48 509.49 L1850.34 508.95 L1853.15 508.4 L1855.93 507.86 L1858.68 507.31 L1861.39 506.76 L1864.06 506.2 L1866.7 505.65 L1869.3 505.1 L1871.86 504.54 L1874.39 503.98 L1876.88 503.43 L1879.33 502.87 L1881.74 502.32 L1884.11 501.77 L1886.44 501.21 L1888.74 500.66 L1890.99 500.12 L1893.21 499.57 L1895.39 499.03 L1897.52 498.49 L1899.62 497.95 L1901.67 497.42 L1903.69 496.89 L1905.66 496.36 L1907.59 495.85 L1909.48 495.33 L1911.33 494.82 L1913.14 494.32 L1914.91 493.83 L1916.63 493.34 L1918.31 492.85 L1919.95 492.38 L1921.54 491.91 L1923.1 491.45 L1924.61 491.01 L1926.07 490.56 L1927.49 490.13 L1928.87 489.71 L1930.21 489.3 L1931.5 488.9 L1932.75 488.51 L1933.95 488.13 L1935.11 487.76 L1936.22 487.4 L1937.29 487.06 L1938.32 486.73 L1939.3 486.41 L1940.24 486.1 L1941.13 485.81 L1941.97 485.53 L1942.77 485.26 L1943.53 485.01 L1944.24 484.77 L1944.9 484.54 L1945.52 484.33 L1946.09 484.14 L1946.62 483.96 L1947.1 483.79 L1947.54 483.64 L1947.93 483.51 L1948.27 483.39 L1948.57 483.29 L1948.83 483.2 L1949.03 483.13 L1949.19 483.07 L1949.31 483.03 L1949.38 483.01 L1949.4 483"/>
<circle cx="1110.59" cy="456.51" r="4.55" fill="#262626"/>
<circle cx="1949.4" cy="483" r="4.55" fill="#262626"/>
<text class="t" text-anchor="middle" transform="translate(1109.5 724.7) scale(1 1.07)">0</text>
<text class="t" text-anchor="middle" transform="translate(1193.49 724.7) scale(1 1.07)">0.2</text>
<text class="t" text-anchor="middle" transform="translate(1277.48 724.7) scale(1 1.07)">0.4</text>
<text class="t" text-anchor="middle" transform="translate(1361.47 724.7) scale(1 1.07)">0.6</text>
<text class="t" text-anchor="middle" transform="translate(1445.46 724.7) scale(1 1.07)">0.8</text>
<text class="t" text-anchor="middle" transform="translate(1529.45 724.7) scale(1 1.07)">1</text>
<g fill="#fff" transform="translate(1529.45 724.7) scale(1 1.07)"><rect x="-6.43" y="-2.83" width="5.74" height="3.93"/><rect x="1.6" y="-2.83" width="5.7" height="3.93"/></g>
<text class="t" text-anchor="middle" transform="translate(1613.44 724.7) scale(1 1.07)">1.2</text>
<g fill="#fff" transform="translate(1613.44 724.7) scale(1 1.07)"><rect x="-17.22" y="-2.83" width="5.74" height="3.93"/><rect x="-9.2" y="-2.83" width="5.7" height="3.93"/></g>
<text class="t" text-anchor="middle" transform="translate(1697.43 724.7) scale(1 1.07)">1.4</text>
<g fill="#fff" transform="translate(1697.43 724.7) scale(1 1.07)"><rect x="-17.22" y="-2.83" width="5.74" height="3.93"/><rect x="-9.2" y="-2.83" width="5.7" height="3.93"/></g>
<text class="t" text-anchor="middle" transform="translate(1781.42 724.7) scale(1 1.07)">1.6</text>
<g fill="#fff" transform="translate(1781.42 724.7) scale(1 1.07)"><rect x="-17.22" y="-2.83" width="5.74" height="3.93"/><rect x="-9.2" y="-2.83" width="5.7" height="3.93"/></g>
<text class="t" text-anchor="middle" transform="translate(1865.41 724.7) scale(1 1.07)">1.8</text>
<g fill="#fff" transform="translate(1865.41 724.7) scale(1 1.07)"><rect x="-17.22" y="-2.83" width="5.74" height="3.93"/><rect x="-9.2" y="-2.83" width="5.7" height="3.93"/></g>
<text class="t" text-anchor="middle" transform="translate(1949.4 724.7) scale(1 1.07)">2</text>
<text class="t" text-anchor="end" transform="translate(1098.5 697.9) scale(1 1.07)">0</text>
<text class="t" text-anchor="end" transform="translate(1098.5 602.97) scale(1 1.07)">0.05</text>
<text class="t" text-anchor="end" transform="translate(1098.5 508.04) scale(1 1.07)">0.1</text>
<g fill="#fff" transform="translate(1098.5 508.04) scale(1 1.07)"><rect x="-13.63" y="-2.83" width="5.74" height="3.93"/><rect x="-5.61" y="-2.83" width="5.7" height="3.93"/></g>
<text class="t" text-anchor="end" transform="translate(1098.5 413.11) scale(1 1.07)">0.15</text>
<g fill="#fff" transform="translate(1098.5 413.11) scale(1 1.07)"><rect x="-28.03" y="-2.83" width="5.74" height="3.93"/><rect x="-20" y="-2.83" width="5.7" height="3.93"/></g>
<text class="t" text-anchor="end" transform="translate(1098.5 318.19) scale(1 1.07)">0.2</text>
<text class="t" text-anchor="end" transform="translate(1098.5 223.26) scale(1 1.07)">0.25</text>
<text class="t" text-anchor="end" transform="translate(1098.5 128.33) scale(1 1.07)">0.3</text>
<text class="t" text-anchor="end" transform="translate(1098.5 33.4) scale(1 1.07)">0.35</text>
<text class="l" text-anchor="middle" transform="translate(1529.7 761.2) scale(1 1.05)">Converter Gain G</text>
<text class="l" text-anchor="middle" transform="translate(1022.9 367.1) rotate(-90) scale(1 1.04)">X</text>
<text class="sb" text-anchor="start" transform="translate(1037.1 356.6) rotate(-90) scale(1 1.04)" style="font-size:23.8px">pu</text>
<text class="an" text-anchor="start" transform="translate(1632.1 619.3) scale(1 1.08)">Q<tspan class="sub" dy="9.7" dx="-0.5" style="font-size:21px">pu</tspan><tspan dy="-9.7" dx="0.5">=</tspan>0.3<tspan dx="-0.4">~</tspan><tspan dx="0.2">0</tspan>.<tspan dx="-0.5">7</tspan></text>
<path class="ar" d="M1468 228.3 L1667.6 556"/>
<path fill="#000" d="M1675.6 569.7 L1652.5 550.8 L1665.4 553.8 L1669.7 540.4 Z"/>
<text class="cap" text-anchor="middle" x="1488.9" y="834.6">(b)</text>
</g>
</svg>
</body></html>
